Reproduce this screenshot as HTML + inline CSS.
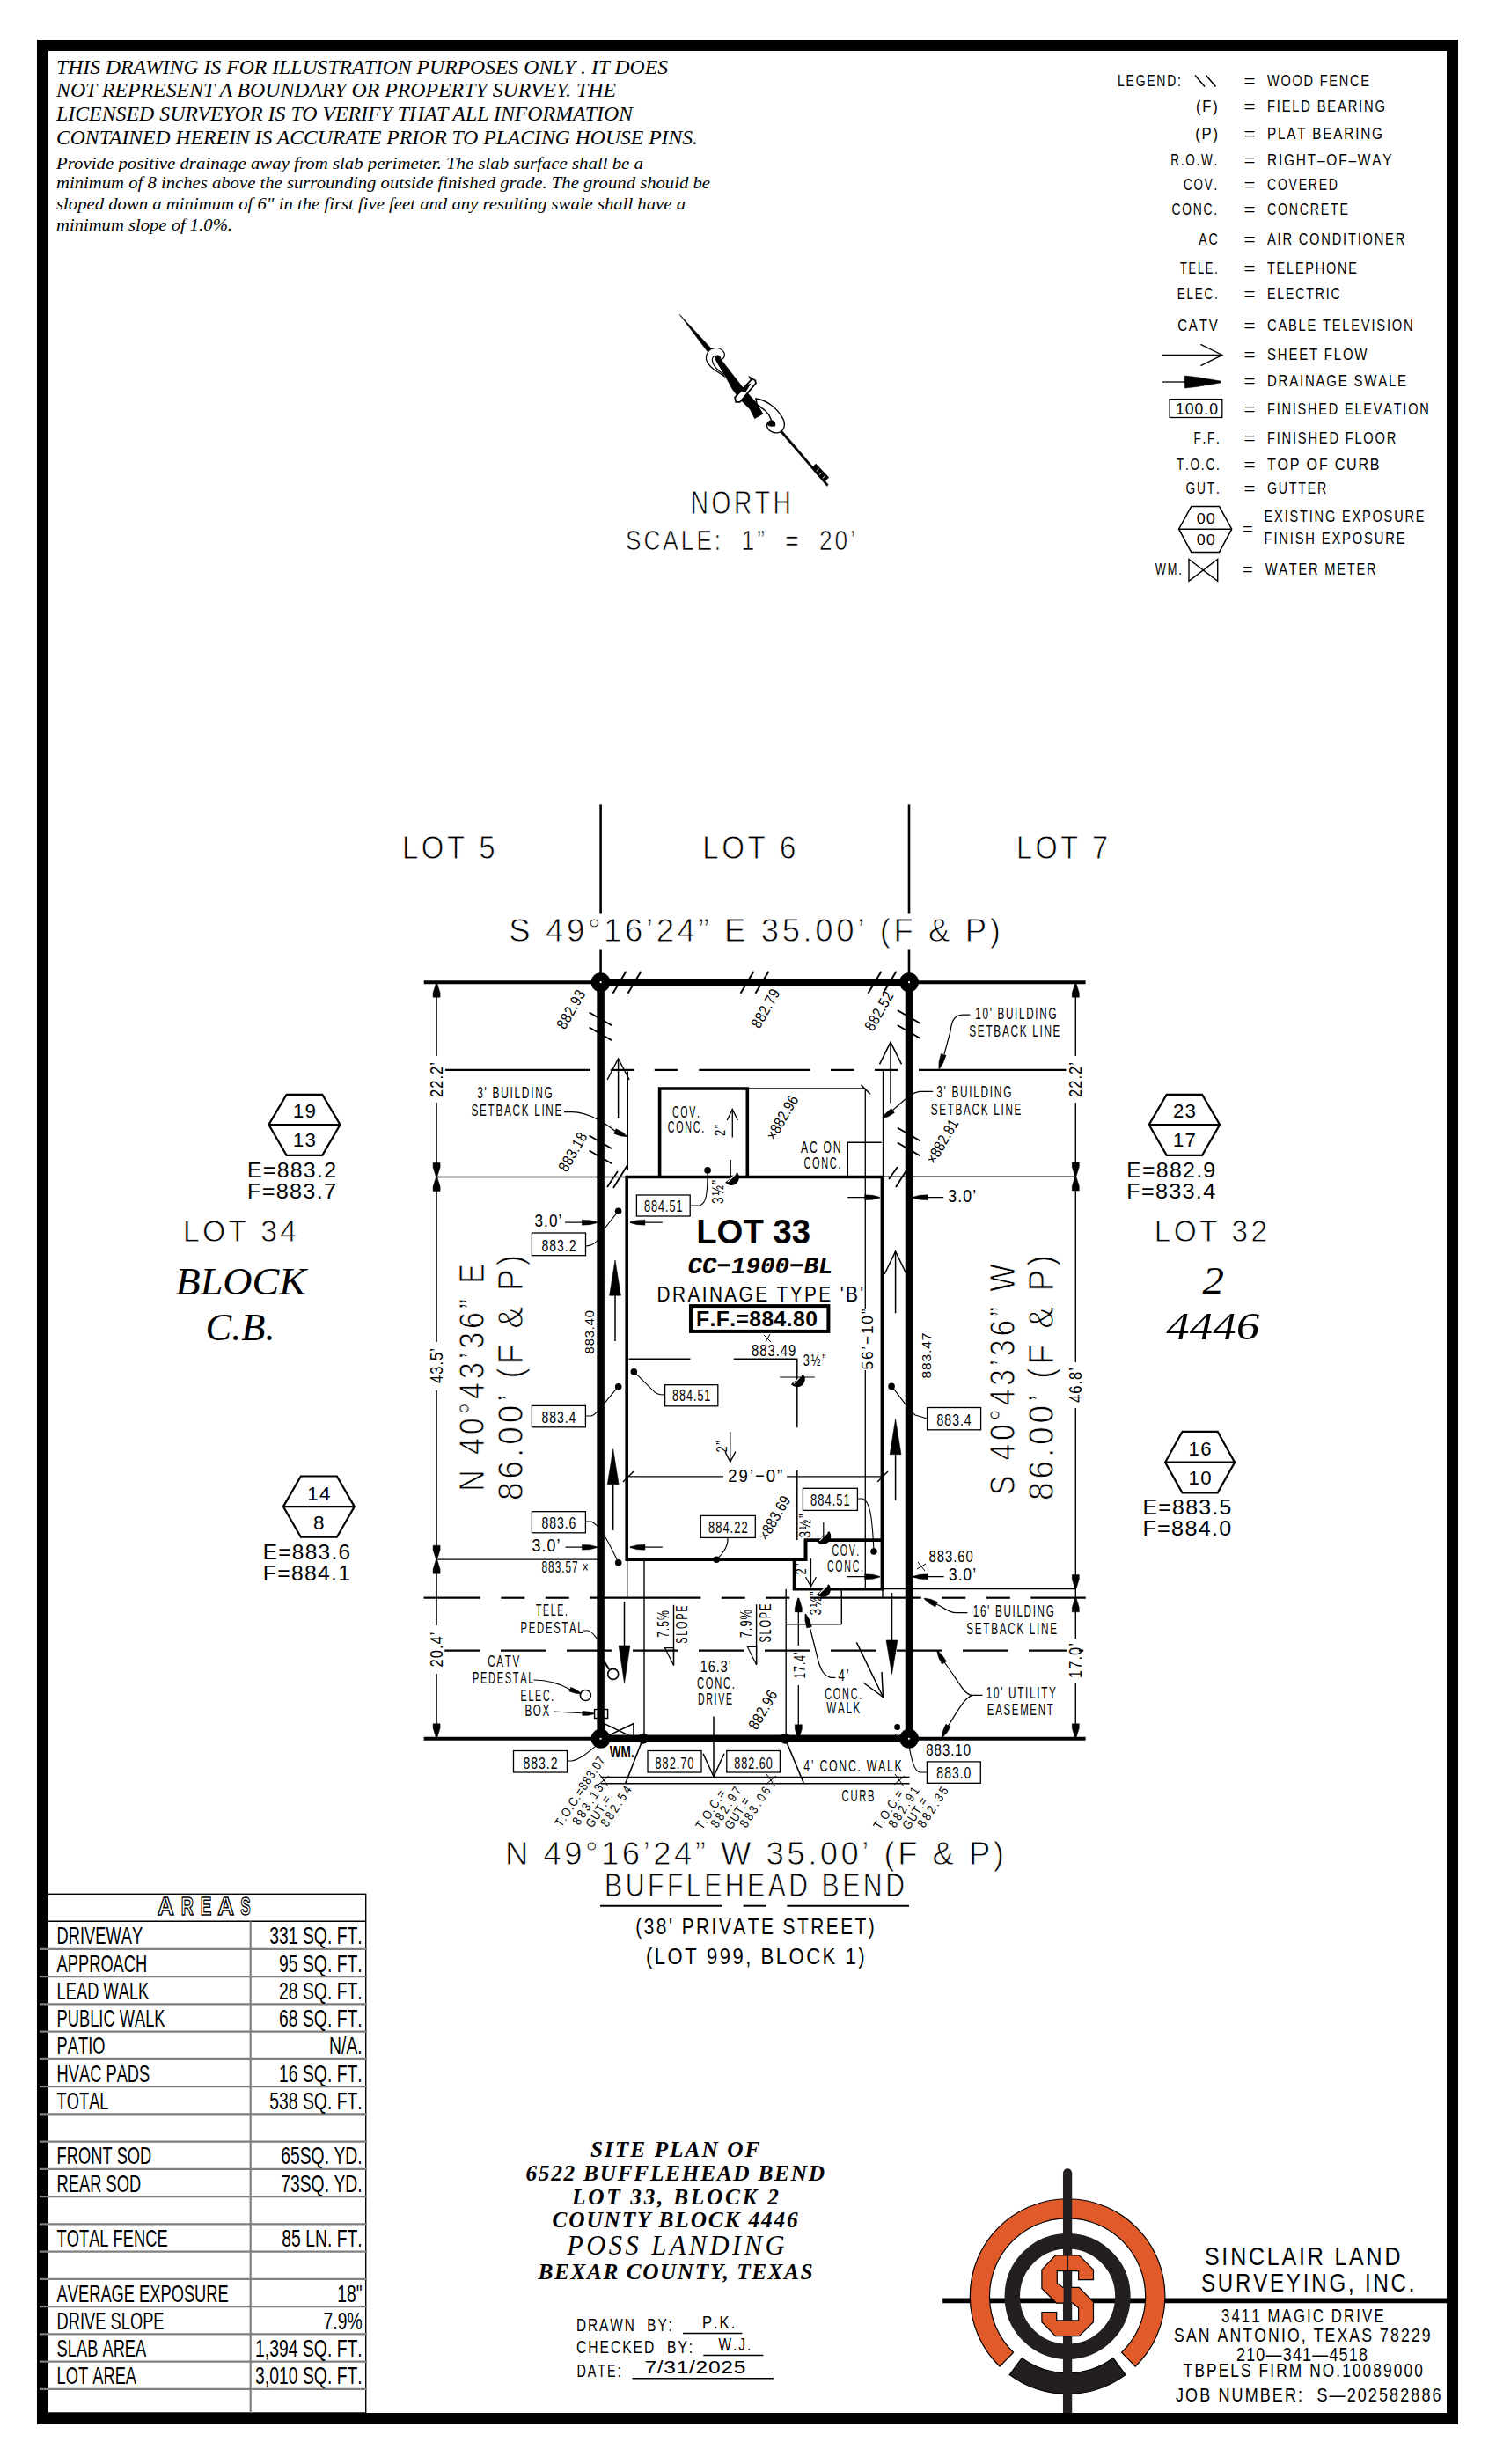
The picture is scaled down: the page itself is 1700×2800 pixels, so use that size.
<!DOCTYPE html>
<html><head><meta charset="utf-8"><style>
html,body{margin:0;padding:0;background:#fff;}
body{width:1700px;height:2800px;overflow:hidden;}
svg{display:block;}
</style></head><body>
<svg width="1700" height="2800" viewBox="0 0 1700 2800">
<rect x="48.5" y="51.5" width="1602.0" height="2697.0" stroke="#000" stroke-width="13" fill="none"/>
<text x="64.0" y="83.6" font-size="23.51" font-family='"Liberation Serif", serif' fill="#000" textLength="695.0" lengthAdjust="spacingAndGlyphs" font-style="italic">THIS DRAWING IS FOR ILLUSTRATION PURPOSES ONLY . IT DOES</text>
<text x="64.0" y="109.8" font-size="23.51" font-family='"Liberation Serif", serif' fill="#000" textLength="636.0" lengthAdjust="spacingAndGlyphs" font-style="italic">NOT REPRESENT A BOUNDARY OR PROPERTY SURVEY. THE</text>
<text x="64.0" y="136.6" font-size="23.51" font-family='"Liberation Serif", serif' fill="#000" textLength="655.0" lengthAdjust="spacingAndGlyphs" font-style="italic">LICENSED SURVEYOR IS TO VERIFY THAT ALL INFORMATION</text>
<text x="64.0" y="163.8" font-size="23.51" font-family='"Liberation Serif", serif' fill="#000" textLength="729.0" lengthAdjust="spacingAndGlyphs" font-style="italic">CONTAINED HEREIN IS ACCURATE PRIOR TO PLACING HOUSE PINS.</text>
<text x="64.0" y="191.6" font-size="19.69" font-family='"Liberation Serif", serif' fill="#000" textLength="667.0" lengthAdjust="spacingAndGlyphs" font-style="italic">Provide positive drainage away from slab perimeter. The slab surface shall be a</text>
<text x="64.0" y="214.3" font-size="19.69" font-family='"Liberation Serif", serif' fill="#000" textLength="743.0" lengthAdjust="spacingAndGlyphs" font-style="italic">minimum of 8 inches above the surrounding outside finished grade. The ground should be</text>
<text x="64.0" y="237.5" font-size="19.69" font-family='"Liberation Serif", serif' fill="#000" textLength="715.0" lengthAdjust="spacingAndGlyphs" font-style="italic">sloped down a minimum of 6" in the first five feet and any resulting swale shall have a</text>
<text x="64.0" y="262.4" font-size="19.69" font-family='"Liberation Serif", serif' fill="#000" textLength="200.0" lengthAdjust="spacingAndGlyphs" font-style="italic">minimum slope of 1.0%.</text>
<text transform="translate(1270.00,98.00) scale(0.7638,1)" x="0.00 12.49 27.02 43.57 58.10 73.63 89.17" y="0" font-size="18.31" font-family='"Liberation Sans", sans-serif' fill="#000" style="white-space:pre">LEGEND:</text>
<line x1="1358.0" y1="85.5" x2="1369.0" y2="98.5" stroke="#000" stroke-width="1.5" />
<line x1="1370.5" y1="85.5" x2="1381.5" y2="98.5" stroke="#000" stroke-width="1.5" />
<text transform="translate(1413.60,98.00) scale(1.2155,1)" x="0.00" y="0" font-size="18.31" font-family='"Liberation Sans", sans-serif' fill="#000" style="white-space:pre">=</text>
<text transform="translate(1440.00,98.00) scale(0.7936,1)" x="0.00 19.51 35.98 52.44 67.89 75.20 88.61 103.05 118.50 133.95" y="0" font-size="18.31" font-family='"Liberation Sans", sans-serif' fill="#000" style="white-space:pre">WOOD FENCE</text>
<text transform="translate(1359.00,127.40) scale(0.9054,1)" x="0.00 8.05 21.18" y="0" font-size="18.31" font-family='"Liberation Sans", sans-serif' fill="#000" style="white-space:pre">(F)</text>
<text transform="translate(1413.60,127.40) scale(1.2155,1)" x="0.00" y="0" font-size="18.31" font-family='"Liberation Sans", sans-serif' fill="#000" style="white-space:pre">=</text>
<text transform="translate(1440.00,127.40) scale(0.8093,1)" x="0.00 13.37 20.63 35.03 47.39 62.80 70.07 84.46 98.86 113.25 128.66 135.93 151.33" y="0" font-size="18.31" font-family='"Liberation Sans", sans-serif' fill="#000" style="white-space:pre">FIELD BEARING</text>
<text transform="translate(1358.30,157.60) scale(0.9082,1)" x="0.00 8.04 22.20" y="0" font-size="18.31" font-family='"Liberation Sans", sans-serif' fill="#000" style="white-space:pre">(P)</text>
<text transform="translate(1413.60,157.60) scale(1.2155,1)" x="0.00" y="0" font-size="18.31" font-family='"Liberation Sans", sans-serif' fill="#000" style="white-space:pre">=</text>
<text transform="translate(1440.00,157.60) scale(0.8363,1)" x="0.00 14.32 26.62 40.94 54.24 61.44 75.76 90.09 104.41 119.75 126.95 142.28" y="0" font-size="18.31" font-family='"Liberation Sans", sans-serif' fill="#000" style="white-space:pre">PLAT BEARING</text>
<text transform="translate(1330.20,187.80) scale(0.7360,1)" x="0.00 15.62 23.11 39.75 47.23 66.92" y="0" font-size="18.31" font-family='"Liberation Sans", sans-serif' fill="#000" style="white-space:pre">R.O.W.</text>
<text transform="translate(1413.60,187.80) scale(1.2155,1)" x="0.00" y="0" font-size="18.31" font-family='"Liberation Sans", sans-serif' fill="#000" style="white-space:pre">=</text>
<text transform="translate(1440.00,187.80) scale(0.8457,1)" x="0.00 15.31 22.49 38.82 54.13 67.40 79.67 96.00 109.28 121.55 140.92 155.22" y="0" font-size="18.31" font-family='"Liberation Sans", sans-serif' fill="#000" style="white-space:pre">RIGHT–OF–WAY</text>
<text transform="translate(1345.00,215.60) scale(0.7349,1)" x="0.00 15.63 32.27 46.89" y="0" font-size="18.31" font-family='"Liberation Sans", sans-serif' fill="#000" style="white-space:pre">COV.</text>
<text transform="translate(1413.60,215.60) scale(1.2155,1)" x="0.00" y="0" font-size="18.31" font-family='"Liberation Sans", sans-serif' fill="#000" style="white-space:pre">=</text>
<text transform="translate(1440.00,215.60) scale(0.7665,1)" x="0.00 15.53 32.07 46.59 61.11 76.63 91.15" y="0" font-size="18.31" font-family='"Liberation Sans", sans-serif' fill="#000" style="white-space:pre">COVERED</text>
<text transform="translate(1331.50,243.70) scale(0.7565,1)" x="0.00 15.56 32.13 47.69 63.25" y="0" font-size="18.31" font-family='"Liberation Sans", sans-serif' fill="#000" style="white-space:pre">CONC.</text>
<text transform="translate(1413.60,243.70) scale(1.2155,1)" x="0.00" y="0" font-size="18.31" font-family='"Liberation Sans", sans-serif' fill="#000" style="white-space:pre">=</text>
<text transform="translate(1440.00,243.70) scale(0.7751,1)" x="0.00 15.50 32.02 47.52 63.03 78.53 93.02 106.48" y="0" font-size="18.31" font-family='"Liberation Sans", sans-serif' fill="#000" style="white-space:pre">CONCRETE</text>
<text transform="translate(1362.30,277.90) scale(0.7719,1)" x="0.00 14.50" y="0" font-size="18.31" font-family='"Liberation Sans", sans-serif' fill="#000" style="white-space:pre">AC</text>
<text transform="translate(1413.60,277.90) scale(1.2155,1)" x="0.00" y="0" font-size="18.31" font-family='"Liberation Sans", sans-serif' fill="#000" style="white-space:pre">=</text>
<text transform="translate(1440.00,277.90) scale(0.8034,1)" x="0.00 14.41 21.69 37.12 44.40 59.82 76.26 91.68 107.11 114.39 127.77 135.06 151.50 166.92 181.33" y="0" font-size="18.31" font-family='"Liberation Sans", sans-serif' fill="#000" style="white-space:pre">AIR CONDITIONER</text>
<text transform="translate(1341.00,310.50) scale(0.7004,1)" x="0.00 13.71 28.44 41.14 55.88" y="0" font-size="18.31" font-family='"Liberation Sans", sans-serif' fill="#000" style="white-space:pre">TELE.</text>
<text transform="translate(1413.60,310.50) scale(1.2155,1)" x="0.00" y="0" font-size="18.31" font-family='"Liberation Sans", sans-serif' fill="#000" style="white-space:pre">=</text>
<text transform="translate(1440.00,310.50) scale(0.7923,1)" x="0.00 13.41 27.86 40.27 54.71 69.15 84.60 101.07 116.53" y="0" font-size="18.31" font-family='"Liberation Sans", sans-serif' fill="#000" style="white-space:pre">TELEPHONE</text>
<text transform="translate(1337.70,340.20) scale(0.7357,1)" x="0.00 14.61 27.20 41.81 57.43" y="0" font-size="18.31" font-family='"Liberation Sans", sans-serif' fill="#000" style="white-space:pre">ELEC.</text>
<text transform="translate(1413.60,340.20) scale(1.2155,1)" x="0.00" y="0" font-size="18.31" font-family='"Liberation Sans", sans-serif' fill="#000" style="white-space:pre">=</text>
<text transform="translate(1440.00,340.20) scale(0.7768,1)" x="0.00 14.49 26.94 41.43 56.93 70.38 85.88 93.24" y="0" font-size="18.31" font-family='"Liberation Sans", sans-serif' fill="#000" style="white-space:pre">ELECTRIC</text>
<text transform="translate(1338.20,375.60) scale(0.8232,1)" x="0.00 15.37 29.73 43.06" y="0" font-size="18.31" font-family='"Liberation Sans", sans-serif' fill="#000" style="white-space:pre">CATV</text>
<text transform="translate(1413.60,375.60) scale(1.2155,1)" x="0.00" y="0" font-size="18.31" font-family='"Liberation Sans", sans-serif' fill="#000" style="white-space:pre">=</text>
<text transform="translate(1440.00,375.60) scale(0.8042,1)" x="0.00 15.42 29.83 44.24 56.62 71.03 78.31 91.69 106.10 118.48 132.88 147.29 154.58 168.98 176.27 192.70" y="0" font-size="18.31" font-family='"Liberation Sans", sans-serif' fill="#000" style="white-space:pre">CABLE TELEVISION</text>
<text transform="translate(1413.60,409.00) scale(1.2155,1)" x="0.00" y="0" font-size="18.31" font-family='"Liberation Sans", sans-serif' fill="#000" style="white-space:pre">=</text>
<text transform="translate(1440.00,409.00) scale(0.8200,1)" x="0.00 14.37 29.74 44.11 58.48 71.82 79.05 92.39 104.73 121.13" y="0" font-size="18.31" font-family='"Liberation Sans", sans-serif' fill="#000" style="white-space:pre">SHEET FLOW</text>
<text transform="translate(1413.60,438.90) scale(1.2155,1)" x="0.00" y="0" font-size="18.31" font-family='"Liberation Sans", sans-serif' fill="#000" style="white-space:pre">=</text>
<text transform="translate(1440.00,438.90) scale(0.8199,1)" x="0.00 15.38 30.75 45.12 52.36 67.74 82.11 98.50 112.87 120.11 134.48 153.91 168.28 180.62" y="0" font-size="18.31" font-family='"Liberation Sans", sans-serif' fill="#000" style="white-space:pre">DRAINAGE SWALE</text>
<text transform="translate(1336.00,470.50) scale(0.9594,1)" x="0.00 11.24 22.47 33.71 39.85" y="0" font-size="18.31" font-family='"Liberation Sans", sans-serif' fill="#000" style="white-space:pre">100.0</text>
<text transform="translate(1413.60,470.50) scale(1.2155,1)" x="0.00" y="0" font-size="18.31" font-family='"Liberation Sans", sans-serif' fill="#000" style="white-space:pre">=</text>
<text transform="translate(1440.00,470.50) scale(0.7955,1)" x="0.00 13.40 20.71 36.15 43.46 57.89 73.33 87.77 103.21 110.52 124.95 137.35 151.79 166.22 180.65 194.06 201.36 217.82" y="0" font-size="18.31" font-family='"Liberation Sans", sans-serif' fill="#000" style="white-space:pre">FINISHED ELEVATION</text>
<text transform="translate(1356.40,503.60) scale(0.7406,1)" x="0.00 13.57 21.04 34.61" y="0" font-size="18.31" font-family='"Liberation Sans", sans-serif' fill="#000" style="white-space:pre">F.F.</text>
<text transform="translate(1413.60,503.60) scale(1.2155,1)" x="0.00" y="0" font-size="18.31" font-family='"Liberation Sans", sans-serif' fill="#000" style="white-space:pre">=</text>
<text transform="translate(1440.00,503.60) scale(0.8036,1)" x="0.00 13.38 20.67 36.09 43.37 57.78 73.20 87.61 103.03 110.32 123.70 136.08 152.52 168.96" y="0" font-size="18.31" font-family='"Liberation Sans", sans-serif' fill="#000" style="white-space:pre">FINISHED FLOOR</text>
<text transform="translate(1336.90,534.40) scale(0.7432,1)" x="0.00 13.56 21.02 37.64 45.10 60.70" y="0" font-size="18.31" font-family='"Liberation Sans", sans-serif' fill="#000" style="white-space:pre">T.O.C.</text>
<text transform="translate(1413.60,534.40) scale(1.2155,1)" x="0.00" y="0" font-size="18.31" font-family='"Liberation Sans", sans-serif' fill="#000" style="white-space:pre">=</text>
<text transform="translate(1440.00,534.40) scale(0.8786,1)" x="0.00 13.19 29.45 43.67 50.77 67.02 80.21 87.31 102.54 117.78 133.01" y="0" font-size="18.31" font-family='"Liberation Sans", sans-serif' fill="#000" style="white-space:pre">TOP OF CURB</text>
<text transform="translate(1347.60,560.60) scale(0.7522,1)" x="0.00 16.59 32.16 45.69" y="0" font-size="18.31" font-family='"Liberation Sans", sans-serif' fill="#000" style="white-space:pre">GUT.</text>
<text transform="translate(1413.60,560.60) scale(1.2155,1)" x="0.00" y="0" font-size="18.31" font-family='"Liberation Sans", sans-serif' fill="#000" style="white-space:pre">=</text>
<text transform="translate(1440.00,560.60) scale(0.7755,1)" x="0.00 16.52 32.02 45.48 58.94 73.43" y="0" font-size="18.31" font-family='"Liberation Sans", sans-serif' fill="#000" style="white-space:pre">GUTTER</text>
<line x1="1320.0" y1="403.4" x2="1389.0" y2="403.4" stroke="#000" stroke-width="1.3" />
<path d="M1364.4,391.3 L1389,403.4 L1364.4,415.7" stroke="#000" stroke-width="1.3" fill="none" />
<line x1="1321.0" y1="434.0" x2="1348.0" y2="434.0" stroke="#000" stroke-width="1.3" />
<path d="M1346.3,427.0 L1360.0,428.5 L1387.0,433.0 L1387.0,435.0 L1360.0,439.5 L1346.3,441.0 Z" stroke="#000" stroke-width="0.5" fill="#000" />
<rect x="1329.1" y="453.6" width="59.7" height="20.9" stroke="#000" stroke-width="1.3" fill="none"/>
<path d="M1353.7,575.6 L1385.6,575.6 L1399.7,601.2 L1385.6,627.4 L1353.7,627.4 L1339.6,601.2 Z" stroke="#000" stroke-width="1.5" fill="none" />
<line x1="1339.6" y1="601.2" x2="1399.7" y2="601.2" stroke="#000" stroke-width="1.5" />
<text transform="translate(1359.80,595.30) scale(1.0802,1)" x="0.00 10.15" y="0" font-size="16.72" font-family='"Liberation Sans", sans-serif' fill="#000" style="white-space:pre">00</text>
<text transform="translate(1359.80,619.40) scale(1.0802,1)" x="0.00 10.15" y="0" font-size="16.72" font-family='"Liberation Sans", sans-serif' fill="#000" style="white-space:pre">00</text>
<text transform="translate(1411.80,607.00) scale(1.1220,1)" x="0.00" y="0" font-size="18.31" font-family='"Liberation Sans", sans-serif' fill="#000" style="white-space:pre">=</text>
<text transform="translate(1436.60,592.70) scale(0.7995,1)" x="0.00 14.42 28.84 36.14 50.56 63.95 71.25 86.68 103.13 110.43 124.85 139.27 153.69 170.14 184.56 200.00 215.43" y="0" font-size="18.31" font-family='"Liberation Sans", sans-serif' fill="#000" style="white-space:pre">EXISTING EXPOSURE</text>
<text transform="translate(1436.60,617.50) scale(0.8107,1)" x="0.00 13.36 20.63 36.03 43.29 57.68 73.09 80.35 94.74 109.13 123.52 139.94 154.34 169.74 185.14" y="0" font-size="18.31" font-family='"Liberation Sans", sans-serif' fill="#000" style="white-space:pre">FINISH EXPOSURE</text>
<text transform="translate(1312.80,653.40) scale(0.7034,1)" x="0.00 19.79 37.56" y="0" font-size="18.31" font-family='"Liberation Sans", sans-serif' fill="#000" style="white-space:pre">WM.</text>
<path d="M1351.0,635.5 L1383.7,660.3 L1383.7,635.5 L1351.0,660.3 Z" stroke="#000" stroke-width="1.4" fill="none" />
<text transform="translate(1411.80,653.40) scale(1.1220,1)" x="0.00" y="0" font-size="18.31" font-family='"Liberation Sans", sans-serif' fill="#000" style="white-space:pre">=</text>
<text transform="translate(1437.70,653.40) scale(0.8008,1)" x="0.00 19.49 33.91 47.30 61.71 77.14 84.43 101.89 116.31 129.70 144.12" y="0" font-size="18.31" font-family='"Liberation Sans", sans-serif' fill="#000" style="white-space:pre">WATER METER</text>
<path d="M772.3,357.4 L808.1,396.1 L804.1,399.7 Z" stroke="#000" stroke-width="0.6" fill="#000" />
<path d="M812.8,407.5 L819.5,408.8 L845.6,442.2 L858.9,457.0 L867.0,470.3 L857.6,475.7 L852.2,465.0 L840.2,452.9 L832.2,442.2 L822.8,424.9 Z" stroke="#000" stroke-width="0.6" fill="#000" />
<path d="M 804.12 400.80 C 800.11 407.49 804.12 414.17 810.80 419.52 L 822.83 427.54 L 821.50 424.87 C 817.49 422.19 810.80 416.84 809.47 410.16 C 808.13 403.48 816.15 402.14 817.49 408.82 C 822.83 408.82 825.51 403.48 821.50 398.80 C 817.49 394.12 806.79 394.12 804.12 400.80 Z" stroke="#000" stroke-width="1.2" fill="#fff" />
<path d="M 812.81 406.15 C 813.48 402.81 818.82 403.48 818.82 407.49 C 817.49 410.16 813.48 410.16 812.81 406.15 Z" stroke="#000" stroke-width="1" fill="#000" />
<path d="M813.5,409.5 L819.5,409.5 L829.5,424.9 L822.8,424.9 Z" stroke="#000" stroke-width="0.5" fill="#000" />
<path d="M 835.13 451.60 L 853.58 431.55 L 852.25 428.88 L 858.26 432.22 L 858.93 435.56 L 840.88 456.95 L 836.20 456.95 Z" stroke="#000" stroke-width="1.8" fill="#fff" />
<path d="M 841.82 444.25 L 848.24 437.57 L 853.58 435.56 L 846.90 446.26 Z" stroke="#000" stroke-width="0" fill="#000" />
<path d="M 858.93 452.94 C 869.63 454.28 882.99 462.30 890.35 477.01 C 893.69 486.36 888.34 493.05 880.32 491.71 C 872.30 490.37 868.29 482.35 874.97 478.34 C 878.98 477.01 881.66 481.02 880.32 483.69 L 877.65 482.35 C 876.31 474.33 872.30 467.65 865.61 463.64 L 860.27 459.63 Z" stroke="#000" stroke-width="1.4" fill="#fff" />
<path d="M 872.30 482.35 C 873.64 477.01 880.32 478.34 880.99 482.35 C 880.32 485.03 873.64 485.03 872.30 482.35 Z" stroke="#000" stroke-width="0.8" fill="#000" />
<path d="M886.3,490.4 L889.0,489.7 L941.1,550.5 L939.8,552.5 Z" stroke="#000" stroke-width="0.5" fill="#000" />
<path d="M922.4,531.8 L927.1,527.1 L941.8,542.5 L936.5,547.9 Z" stroke="#000" stroke-width="0.5" fill="#000" />
<line x1="927.7" y1="535.6" x2="930.5" y2="532.8" stroke="#fff" stroke-width="1.0" />
<line x1="931.2" y1="539.6" x2="934.1" y2="536.7" stroke="#fff" stroke-width="1.0" />
<line x1="934.7" y1="543.6" x2="937.8" y2="540.5" stroke="#fff" stroke-width="1.0" />
<text transform="translate(784.80,583.50) scale(0.7741,1)" x="0.00 30.76 63.55 94.31 121.03" y="0" font-size="36.34" font-family='"Liberation Sans", sans-serif' fill="#000" stroke="#fff" stroke-width="0.80" style="white-space:pre">NORTH</text>
<text transform="translate(711.00,624.80) scale(0.8608,1)" x="0.00 23.77 49.23 73.01 93.40 117.17 129.07 140.96 152.86 173.25 186.83 198.73 210.62 231.86 243.76 255.66 276.05 296.44" y="0" font-size="30.52" font-family='"Liberation Sans", sans-serif' fill="#000" stroke="#fff" stroke-width="0.67" style="white-space:pre">SCALE:  1”  =  20’</text>
<text transform="translate(457.00,975.80) scale(0.9062,1)" x="0.00 24.07 56.20 82.26 96.21" y="0" font-size="36.34" font-family='"Liberation Sans", sans-serif' fill="#000" stroke="#fff" stroke-width="0.80" style="white-space:pre">LOT 5</text>
<text transform="translate(798.30,975.80) scale(0.9112,1)" x="0.00 24.05 56.16 82.19 96.13" y="0" font-size="36.34" font-family='"Liberation Sans", sans-serif' fill="#000" stroke="#fff" stroke-width="0.80" style="white-space:pre">LOT 6</text>
<text transform="translate(1155.00,975.80) scale(0.8914,1)" x="0.00 24.14 56.33 82.45 96.47" y="0" font-size="36.34" font-family='"Liberation Sans", sans-serif' fill="#000" stroke="#fff" stroke-width="0.80" style="white-space:pre">LOT 7</text>
<line x1="682.6" y1="914.4" x2="682.6" y2="1038.4" stroke="#000" stroke-width="2.6" />
<line x1="682.6" y1="1078.5" x2="682.6" y2="1116.2" stroke="#000" stroke-width="2.6" />
<line x1="1033.0" y1="914.4" x2="1033.0" y2="1038.4" stroke="#000" stroke-width="2.6" />
<line x1="1033.0" y1="1078.5" x2="1033.0" y2="1116.2" stroke="#000" stroke-width="2.6" />
<text transform="translate(578.30,1070.00) scale(0.9877,1)" x="0.00 28.34 42.25 66.48 90.70 109.14 133.37 157.60 169.44 193.67 217.90 233.86 247.77 276.11 290.02 314.24 338.47 352.38 376.61 400.84 412.69 426.60 442.56 468.81 482.72 511.06 524.97 553.31" y="0" font-size="37.06" font-family='"Liberation Sans", sans-serif' fill="#000" stroke="#fff" stroke-width="0.82" style="white-space:pre">S 49°16’24” E 35.00’ (F &amp; P)</text>
<line x1="481.7" y1="1116.2" x2="682.6" y2="1116.2" stroke="#000" stroke-width="4" />
<line x1="1033.0" y1="1116.2" x2="1233.6" y2="1116.2" stroke="#000" stroke-width="4" />
<line x1="481.7" y1="1975.8" x2="682.6" y2="1975.8" stroke="#000" stroke-width="4" />
<line x1="1033.0" y1="1975.8" x2="1233.6" y2="1975.8" stroke="#000" stroke-width="4" />
<line x1="682.6" y1="1116.2" x2="1033.0" y2="1116.2" stroke="#000" stroke-width="8.5" />
<line x1="682.6" y1="1975.8" x2="1033.0" y2="1975.8" stroke="#000" stroke-width="8.5" />
<line x1="682.6" y1="1116.2" x2="682.6" y2="1975.8" stroke="#000" stroke-width="8.5" />
<line x1="1033.0" y1="1116.2" x2="1033.0" y2="1975.8" stroke="#000" stroke-width="8.5" />
<circle cx="682.6" cy="1116.2" r="11.0" fill="#000" stroke="#000" stroke-width="0"/>
<circle cx="682.6" cy="1116.2" r="1.1" fill="#fff" stroke="#000" stroke-width="0"/>
<circle cx="1033.0" cy="1116.2" r="11.0" fill="#000" stroke="#000" stroke-width="0"/>
<circle cx="1033.0" cy="1116.2" r="1.1" fill="#fff" stroke="#000" stroke-width="0"/>
<circle cx="682.6" cy="1975.8" r="11.0" fill="#000" stroke="#000" stroke-width="0"/>
<circle cx="682.6" cy="1975.8" r="1.1" fill="#fff" stroke="#000" stroke-width="0"/>
<circle cx="1033.0" cy="1975.8" r="11.0" fill="#000" stroke="#000" stroke-width="0"/>
<circle cx="1033.0" cy="1975.8" r="1.1" fill="#fff" stroke="#000" stroke-width="0"/>
<circle cx="730.8" cy="1975.8" r="6.0" fill="#000" stroke="#000" stroke-width="0"/>
<circle cx="892.4" cy="1975.8" r="6.0" fill="#000" stroke="#000" stroke-width="0"/>
<line x1="496.1" y1="1116.2" x2="496.1" y2="1200.0" stroke="#000" stroke-width="1.4" />
<line x1="496.1" y1="1253.0" x2="496.1" y2="1337.5" stroke="#000" stroke-width="1.4" />
<path d="M495.5,1117.2 L496.7,1117.2 L500.1,1128.2 L500.1,1133.2 L492.1,1133.2 L492.1,1128.2 Z" stroke="#000" stroke-width="0.5" fill="#000" />
<path d="M495.5,1337.5 L496.7,1337.5 L500.1,1326.5 L500.1,1321.5 L492.1,1321.5 L492.1,1326.5 Z" stroke="#000" stroke-width="0.5" fill="#000" />
<path d="M495.5,1337.5 L496.7,1337.5 L500.1,1348.5 L500.1,1353.5 L492.1,1353.5 L492.1,1348.5 Z" stroke="#000" stroke-width="0.5" fill="#000" />
<text transform="rotate(-90 502.80 1227.00) translate(482.80,1227.00) scale(0.8386,1)" x="0.00 12.20 24.40 31.14 43.34" y="0" font-size="19.62" font-family='"Liberation Sans", sans-serif' fill="#000" style="white-space:pre">22.2’</text>
<line x1="496.1" y1="1337.5" x2="496.1" y2="1525.0" stroke="#000" stroke-width="1.4" />
<line x1="496.1" y1="1580.0" x2="496.1" y2="1772.2" stroke="#000" stroke-width="1.4" />
<text transform="rotate(-90 502.80 1552.00) translate(482.80,1552.00) scale(0.8386,1)" x="0.00 12.20 24.40 31.14 43.34" y="0" font-size="19.62" font-family='"Liberation Sans", sans-serif' fill="#000" style="white-space:pre">43.5’</text>
<path d="M495.5,1772.2 L496.7,1772.2 L500.1,1761.2 L500.1,1756.2 L492.1,1756.2 L492.1,1761.2 Z" stroke="#000" stroke-width="0.5" fill="#000" />
<path d="M495.5,1772.2 L496.7,1772.2 L500.1,1783.2 L500.1,1788.2 L492.1,1788.2 L492.1,1783.2 Z" stroke="#000" stroke-width="0.5" fill="#000" />
<line x1="496.1" y1="1772.2" x2="496.1" y2="1847.0" stroke="#000" stroke-width="1.4" />
<line x1="496.1" y1="1902.0" x2="496.1" y2="1975.8" stroke="#000" stroke-width="1.4" />
<text transform="rotate(-90 502.80 1874.50) translate(482.80,1874.50) scale(0.8386,1)" x="0.00 12.20 24.40 31.14 43.34" y="0" font-size="19.62" font-family='"Liberation Sans", sans-serif' fill="#000" style="white-space:pre">20.4’</text>
<path d="M495.5,1974.8 L496.7,1974.8 L500.1,1963.8 L500.1,1958.8 L492.1,1958.8 L492.1,1963.8 Z" stroke="#000" stroke-width="0.5" fill="#000" />
<line x1="1222.3" y1="1116.2" x2="1222.3" y2="1200.0" stroke="#000" stroke-width="1.4" />
<line x1="1222.3" y1="1253.0" x2="1222.3" y2="1337.0" stroke="#000" stroke-width="1.4" />
<text transform="rotate(-90 1229.00 1227.00) translate(1209.00,1227.00) scale(0.8386,1)" x="0.00 12.20 24.40 31.14 43.34" y="0" font-size="19.62" font-family='"Liberation Sans", sans-serif' fill="#000" style="white-space:pre">22.2’</text>
<path d="M1221.7,1117.2 L1222.9,1117.2 L1226.3,1128.2 L1226.3,1133.2 L1218.3,1133.2 L1218.3,1128.2 Z" stroke="#000" stroke-width="0.5" fill="#000" />
<path d="M1221.7,1337.0 L1222.9,1337.0 L1226.3,1326.0 L1226.3,1321.0 L1218.3,1321.0 L1218.3,1326.0 Z" stroke="#000" stroke-width="0.5" fill="#000" />
<path d="M1221.7,1337.0 L1222.9,1337.0 L1226.3,1348.0 L1226.3,1353.0 L1218.3,1353.0 L1218.3,1348.0 Z" stroke="#000" stroke-width="0.5" fill="#000" />
<line x1="1222.3" y1="1337.0" x2="1222.3" y2="1548.0" stroke="#000" stroke-width="1.4" />
<line x1="1222.3" y1="1600.0" x2="1222.3" y2="1805.6" stroke="#000" stroke-width="1.4" />
<text transform="rotate(-90 1229.00 1574.00) translate(1209.00,1574.00) scale(0.8386,1)" x="0.00 12.20 24.40 31.14 43.34" y="0" font-size="19.62" font-family='"Liberation Sans", sans-serif' fill="#000" style="white-space:pre">46.8’</text>
<path d="M1221.7,1805.6 L1222.9,1805.6 L1226.3,1794.6 L1226.3,1789.6 L1218.3,1789.6 L1218.3,1794.6 Z" stroke="#000" stroke-width="0.5" fill="#000" />
<path d="M1221.7,1815.8 L1222.9,1815.8 L1226.3,1826.8 L1226.3,1831.8 L1218.3,1831.8 L1218.3,1826.8 Z" stroke="#000" stroke-width="0.5" fill="#000" />
<line x1="1222.3" y1="1805.6" x2="1222.3" y2="1815.8" stroke="#000" stroke-width="1.4" />
<line x1="1222.3" y1="1815.8" x2="1222.3" y2="1862.0" stroke="#000" stroke-width="1.4" />
<line x1="1222.3" y1="1912.0" x2="1222.3" y2="1975.8" stroke="#000" stroke-width="1.4" />
<text transform="rotate(-90 1229.00 1887.00) translate(1209.00,1887.00) scale(0.8386,1)" x="0.00 12.20 24.40 31.14 43.34" y="0" font-size="19.62" font-family='"Liberation Sans", sans-serif' fill="#000" style="white-space:pre">17.0’</text>
<path d="M1221.7,1974.8 L1222.9,1974.8 L1226.3,1963.8 L1226.3,1958.8 L1218.3,1958.8 L1218.3,1963.8 Z" stroke="#000" stroke-width="0.5" fill="#000" />
<line x1="496.1" y1="1337.5" x2="712.2" y2="1337.5" stroke="#000" stroke-width="1.3" />
<line x1="1002.4" y1="1337.2" x2="1222.3" y2="1337.2" stroke="#000" stroke-width="1.3" />
<line x1="496.1" y1="1772.2" x2="682.6" y2="1772.2" stroke="#000" stroke-width="1.3" />
<line x1="1002.4" y1="1805.6" x2="1222.3" y2="1805.6" stroke="#000" stroke-width="1.3" />
<line x1="506.0" y1="1215.9" x2="671.0" y2="1215.9" stroke="#000" stroke-width="2.2" />
<line x1="693.8" y1="1215.9" x2="720.3" y2="1215.9" stroke="#000" stroke-width="2.2" />
<line x1="743.8" y1="1215.9" x2="770.3" y2="1215.9" stroke="#000" stroke-width="2.2" />
<line x1="794.3" y1="1215.9" x2="920.3" y2="1215.9" stroke="#000" stroke-width="2.2" />
<line x1="944.0" y1="1215.9" x2="970.5" y2="1215.9" stroke="#000" stroke-width="2.2" />
<line x1="994.0" y1="1215.9" x2="1020.5" y2="1215.9" stroke="#000" stroke-width="2.2" />
<line x1="1044.0" y1="1215.9" x2="1211.5" y2="1215.9" stroke="#000" stroke-width="2.2" />
<line x1="481.5" y1="1815.7" x2="545.8" y2="1815.7" stroke="#000" stroke-width="2.2" />
<line x1="569.3" y1="1815.7" x2="596.3" y2="1815.7" stroke="#000" stroke-width="2.2" />
<line x1="619.8" y1="1815.7" x2="646.8" y2="1815.7" stroke="#000" stroke-width="2.2" />
<line x1="670.3" y1="1815.7" x2="796.3" y2="1815.7" stroke="#000" stroke-width="2.2" />
<line x1="819.8" y1="1815.7" x2="846.8" y2="1815.7" stroke="#000" stroke-width="2.2" />
<line x1="870.3" y1="1815.7" x2="897.3" y2="1815.7" stroke="#000" stroke-width="2.2" />
<line x1="920.8" y1="1815.7" x2="1046.8" y2="1815.7" stroke="#000" stroke-width="2.2" />
<line x1="1070.3" y1="1815.7" x2="1097.3" y2="1815.7" stroke="#000" stroke-width="2.2" />
<line x1="1120.8" y1="1815.7" x2="1147.8" y2="1815.7" stroke="#000" stroke-width="2.2" />
<line x1="1171.3" y1="1815.7" x2="1233.8" y2="1815.7" stroke="#000" stroke-width="2.2" />
<line x1="505.2" y1="1875.7" x2="545.5" y2="1875.7" stroke="#000" stroke-width="2.2" />
<line x1="569.0" y1="1875.7" x2="620.5" y2="1875.7" stroke="#000" stroke-width="2.2" />
<line x1="644.0" y1="1875.7" x2="695.5" y2="1875.7" stroke="#000" stroke-width="2.2" />
<line x1="719.0" y1="1875.7" x2="770.5" y2="1875.7" stroke="#000" stroke-width="2.2" />
<line x1="794.0" y1="1875.7" x2="845.5" y2="1875.7" stroke="#000" stroke-width="2.2" />
<line x1="869.0" y1="1875.7" x2="920.5" y2="1875.7" stroke="#000" stroke-width="2.2" />
<line x1="944.0" y1="1875.7" x2="995.5" y2="1875.7" stroke="#000" stroke-width="2.2" />
<line x1="1019.0" y1="1875.7" x2="1070.5" y2="1875.7" stroke="#000" stroke-width="2.2" />
<line x1="1094.0" y1="1875.7" x2="1145.5" y2="1875.7" stroke="#000" stroke-width="2.2" />
<line x1="1169.0" y1="1875.7" x2="1212.4" y2="1875.7" stroke="#000" stroke-width="2.2" />
<line x1="1226.0" y1="1875.7" x2="1231.2" y2="1875.7" stroke="#000" stroke-width="2.2" />
<path d="M712.2,1337.5 L1002.4,1337.5 L1002.4,1750.2 L915.5,1750.2 L915.5,1772.2 L712.2,1772.2 Z" stroke="#000" stroke-width="3.6" fill="none" />
<path d="M915.5,1750.2 L1002.4,1750.2 L1002.4,1805.7 L902.5,1805.7 L902.5,1772.2 L915.5,1772.2 Z" stroke="#000" stroke-width="3.6" fill="none" />
<path d="M749.6,1337.5 L749.6,1237.0 L849.3,1237.0 L849.3,1337.5" stroke="#000" stroke-width="3.6" fill="none" />
<line x1="849.3" y1="1237.0" x2="983.3" y2="1237.0" stroke="#000" stroke-width="1.3" />
<line x1="978.4" y1="1232.8" x2="989.0" y2="1243.3" stroke="#000" stroke-width="1.5" />
<line x1="983.3" y1="1237.0" x2="983.3" y2="1487.0" stroke="#000" stroke-width="1.3" />
<line x1="983.3" y1="1557.0" x2="983.3" y2="1805.7" stroke="#000" stroke-width="1.3" />
<path d="M963.2,1337.5 L963.2,1298.3 L1001.8,1298.3" stroke="#000" stroke-width="1.6" fill="none" />
<text transform="translate(910.10,1309.50) scale(0.7003,1)" x="0.00 14.03 29.03 36.27 52.24" y="0" font-size="17.44" font-family='"Liberation Sans", sans-serif' fill="#000" style="white-space:pre">AC ON</text>
<text transform="translate(913.40,1327.50) scale(0.6295,1)" x="0.00 15.26 31.50 46.77 62.03" y="0" font-size="17.44" font-family='"Liberation Sans", sans-serif' fill="#000" style="white-space:pre">CONC.</text>
<text transform="translate(764.00,1269.80) scale(0.6087,1)" x="0.00 15.36 31.68 46.08" y="0" font-size="17.44" font-family='"Liberation Sans", sans-serif' fill="#000" style="white-space:pre">COV.</text>
<text transform="translate(758.80,1287.20) scale(0.6170,1)" x="0.00 15.32 31.61 46.93 62.25" y="0" font-size="17.44" font-family='"Liberation Sans", sans-serif' fill="#000" style="white-space:pre">CONC.</text>
<text transform="translate(791.20,1413.00) scale(0.9773,1)" x="0.00 23.97 54.50 78.47 89.37 111.20" y="0" font-size="39.24" font-family='"Liberation Sans", sans-serif' fill="#000" font-weight="bold" style="white-space:pre">LOT 33</text>
<text x="781.5" y="1446.8" font-family='"Liberation Mono", monospace' font-weight="bold" font-style="italic" font-size="27.5" textLength="165" lengthAdjust="spacingAndGlyphs">CC−1900−BL</text>
<text transform="translate(746.60,1478.50) scale(0.8430,1)" x="0.00 20.67 41.34 60.64 70.33 91.00 110.30 132.34 151.65 161.34 179.25 198.56 217.86 237.17 246.85 254.40 273.70" y="0" font-size="24.71" font-family='"Liberation Sans", sans-serif' fill="#000" style="white-space:pre">DRAINAGE TYPE 'B'</text>
<rect x="785.0" y="1484.1" width="156.4" height="28.8" stroke="#000" stroke-width="4" fill="none"/>
<text transform="translate(790.90,1506.70) scale(1.0000,1)" x="0.00 15.50 22.77 38.28 45.55 60.39 74.54 88.69 102.84 110.11 124.26" y="0" font-size="24.71" font-family='"Liberation Sans", sans-serif' fill="#000" font-weight="bold" style="white-space:pre">F.F.=884.80</text>
<line x1="714.5" y1="1544.2" x2="784.5" y2="1544.2" stroke="#000" stroke-width="1.5" />
<path d="M833.7,1544.2 L905.8,1544.2 L905.8,1622.2" stroke="#000" stroke-width="1.5" fill="none" />
<line x1="905.8" y1="1671.0" x2="905.8" y2="1750.0" stroke="#000" stroke-width="1.5" />
<text transform="translate(854.00,1540.50) scale(0.8529,1)" x="0.00 10.83 21.65 32.48 38.45 49.28" y="0" font-size="17.44" font-family='"Liberation Sans", sans-serif' fill="#000" style="white-space:pre">883.49</text>
<line x1="868.0" y1="1517.0" x2="876.0" y2="1525.0" stroke="#000" stroke-width="1" />
<line x1="870.0" y1="1525.0" x2="875.0" y2="1516.0" stroke="#000" stroke-width="1" />
<text transform="translate(912.80,1552.30) scale(0.6775,1)" x="0.00 13.19 31.64" y="0" font-size="18.90" font-family='"Liberation Sans", sans-serif' fill="#000" style="white-space:pre">3½”</text>
<line x1="714.5" y1="1677.9" x2="822.0" y2="1677.9" stroke="#000" stroke-width="1.3" />
<line x1="894.0" y1="1677.9" x2="1003.7" y2="1677.9" stroke="#000" stroke-width="1.3" />
<text transform="translate(827.30,1683.90) scale(0.9137,1)" x="0.00 13.46 26.92 33.59 47.62 61.08" y="0" font-size="20.35" font-family='"Liberation Sans", sans-serif' fill="#000" style="white-space:pre">29’−0”</text>
<line x1="708.0" y1="1684.0" x2="720.0" y2="1672.0" stroke="#000" stroke-width="1.5" />
<line x1="997.0" y1="1684.0" x2="1009.0" y2="1672.0" stroke="#000" stroke-width="1.5" />
<text transform="rotate(-90 991.50 1522.00) translate(957.00,1522.00) scale(0.9138,1)" x="0.00 12.50 25.00 31.19 44.22 56.72 69.22" y="0" font-size="18.90" font-family='"Liberation Sans", sans-serif' fill="#000" style="white-space:pre">56’−10”</text>
<line x1="829.8" y1="1627.2" x2="829.8" y2="1661.4" stroke="#000" stroke-width="1.3" />
<path d="M824,1649.6 L829.8,1661.4 L835.8,1649.6" stroke="#000" stroke-width="1.3" fill="none" />
<text transform="rotate(-90 825.50 1644.00) translate(819.00,1644.00) scale(0.8061,1)" x="0.00 10.80" y="0" font-size="15.99" font-family='"Liberation Sans", sans-serif' fill="#000" style="white-space:pre">2”</text>
<path d="M325.6,1243.9 L366.3,1243.9 L386.5,1278.0 L366.3,1312.8 L325.6,1312.8 L305.4,1278.0 Z" stroke="#000" stroke-width="2.2" fill="none" />
<line x1="305.4" y1="1278.0" x2="386.5" y2="1278.0" stroke="#000" stroke-width="2.2" />
<text transform="translate(332.95,1270.20) scale(0.9685,1)" x="0.00 14.08" y="0" font-size="22.97" font-family='"Liberation Sans", sans-serif' fill="#000" style="white-space:pre">19</text>
<text transform="translate(332.95,1303.00) scale(0.9685,1)" x="0.00 14.08" y="0" font-size="22.97" font-family='"Liberation Sans", sans-serif' fill="#000" style="white-space:pre">13</text>
<text transform="translate(281.00,1337.90) scale(1.0691,1)" x="0.00 16.71 31.49 45.62 59.75 73.88 81.54" y="0" font-size="23.26" font-family='"Liberation Sans", sans-serif' fill="#000" style="white-space:pre">E=883.2</text>
<text transform="translate(281.00,1361.50) scale(1.0854,1)" x="0.00 15.38 30.15 44.26 58.37 72.48 80.13" y="0" font-size="23.26" font-family='"Liberation Sans", sans-serif' fill="#000" style="white-space:pre">F=883.7</text>
<path d="M341.9,1677.5 L382.8,1677.5 L402.8,1712.1 L382.8,1746.7 L341.9,1746.7 L321.9,1712.1 Z" stroke="#000" stroke-width="2.2" fill="none" />
<line x1="321.9" y1="1712.1" x2="402.8" y2="1712.1" stroke="#000" stroke-width="2.2" />
<text transform="translate(349.35,1704.80) scale(0.9685,1)" x="0.00 14.08" y="0" font-size="22.97" font-family='"Liberation Sans", sans-serif' fill="#000" style="white-space:pre">14</text>
<text transform="translate(356.10,1737.70) scale(0.9790,1)" x="0.00" y="0" font-size="22.97" font-family='"Liberation Sans", sans-serif' fill="#000" style="white-space:pre">8</text>
<text transform="translate(298.80,1771.80) scale(1.0485,1)" x="0.00 16.73 31.53 45.69 59.84 74.00 81.68" y="0" font-size="23.26" font-family='"Liberation Sans", sans-serif' fill="#000" style="white-space:pre">E=883.6</text>
<text transform="translate(298.80,1796.10) scale(1.0644,1)" x="0.00 15.41 30.19 44.33 58.46 72.60 80.26" y="0" font-size="23.26" font-family='"Liberation Sans", sans-serif' fill="#000" style="white-space:pre">F=884.1</text>
<path d="M1325.7,1243.9 L1366.1,1243.9 L1386.1,1278.0 L1366.1,1312.8 L1325.7,1312.8 L1305.7,1278.0 Z" stroke="#000" stroke-width="2.2" fill="none" />
<line x1="1305.7" y1="1278.0" x2="1386.1" y2="1278.0" stroke="#000" stroke-width="2.2" />
<text transform="translate(1332.90,1270.20) scale(0.9685,1)" x="0.00 14.08" y="0" font-size="22.97" font-family='"Liberation Sans", sans-serif' fill="#000" style="white-space:pre">23</text>
<text transform="translate(1332.90,1303.00) scale(0.9685,1)" x="0.00 14.08" y="0" font-size="22.97" font-family='"Liberation Sans", sans-serif' fill="#000" style="white-space:pre">17</text>
<text transform="translate(1280.20,1337.90) scale(1.0691,1)" x="0.00 16.71 31.49 45.62 59.75 73.88 81.54" y="0" font-size="23.26" font-family='"Liberation Sans", sans-serif' fill="#000" style="white-space:pre">E=882.9</text>
<text transform="translate(1280.20,1361.50) scale(1.0854,1)" x="0.00 15.38 30.15 44.26 58.37 72.48 80.13" y="0" font-size="23.26" font-family='"Liberation Sans", sans-serif' fill="#000" style="white-space:pre">F=833.4</text>
<path d="M1343.5,1626.9 L1383.7,1626.9 L1403.1,1661.7 L1383.7,1696.3 L1343.5,1696.3 L1324.1,1661.7 Z" stroke="#000" stroke-width="2.2" fill="none" />
<line x1="1324.1" y1="1661.7" x2="1403.1" y2="1661.7" stroke="#000" stroke-width="2.2" />
<text transform="translate(1350.60,1653.70) scale(0.9685,1)" x="0.00 14.08" y="0" font-size="22.97" font-family='"Liberation Sans", sans-serif' fill="#000" style="white-space:pre">16</text>
<text transform="translate(1350.60,1686.50) scale(0.9685,1)" x="0.00 14.08" y="0" font-size="22.97" font-family='"Liberation Sans", sans-serif' fill="#000" style="white-space:pre">10</text>
<text transform="translate(1298.40,1720.60) scale(1.0691,1)" x="0.00 16.71 31.49 45.62 59.75 73.88 81.54" y="0" font-size="23.26" font-family='"Liberation Sans", sans-serif' fill="#000" style="white-space:pre">E=883.5</text>
<text transform="translate(1298.40,1745.00) scale(1.0854,1)" x="0.00 15.38 30.15 44.26 58.37 72.48 80.13" y="0" font-size="23.26" font-family='"Liberation Sans", sans-serif' fill="#000" style="white-space:pre">F=884.0</text>
<text transform="translate(208.00,1411.40) scale(0.9645,1)" x="0.00 22.88 53.50 78.29 91.47 114.35" y="0" font-size="34.88" font-family='"Liberation Sans", sans-serif' fill="#000" stroke="#fff" stroke-width="0.77" style="white-space:pre">LOT 34</text>
<text x="199.5" y="1471.0" font-size="45.04" font-family='"Liberation Serif", serif' fill="#000" textLength="148.5" lengthAdjust="spacingAndGlyphs" font-style="italic">BLOCK</text>
<text x="233.6" y="1523.4" font-size="45.04" font-family='"Liberation Serif", serif' fill="#000" textLength="79.0" lengthAdjust="spacingAndGlyphs" font-style="italic">C.B.</text>
<text transform="translate(1311.80,1411.40) scale(0.9585,1)" x="0.00 22.91 53.55 78.36 91.56 114.46" y="0" font-size="34.88" font-family='"Liberation Sans", sans-serif' fill="#000" stroke="#fff" stroke-width="0.77" style="white-space:pre">LOT 32</text>
<text x="1366.6" y="1469.8" font-size="45.04" font-family='"Liberation Serif", serif' fill="#000" textLength="24.4" lengthAdjust="spacingAndGlyphs" font-style="italic">2</text>
<text x="1325.2" y="1521.7" font-size="45.04" font-family='"Liberation Serif", serif' fill="#000" textLength="106.0" lengthAdjust="spacingAndGlyphs" font-style="italic">4446</text>
<text transform="translate(574.00,2119.30) scale(1.0033,1)" x="0.00 29.73 43.31 67.01 90.71 108.73 132.43 156.12 167.69 191.38 215.08 230.67 244.26 282.04 295.62 319.32 343.02 356.60 380.30 404.00 415.56 429.14 444.73 470.42 484.00 511.73 525.31 553.04" y="0" font-size="36.34" font-family='"Liberation Sans", sans-serif' fill="#000" stroke="#fff" stroke-width="0.80" style="white-space:pre">N 49°16’24” W 35.00’ (F &amp; P)</text>
<text transform="translate(687.00,2154.50) scale(0.8311,1)" x="0.00 28.45 58.90 85.31 111.72 136.14 164.58 195.04 223.48 251.93 282.39 296.69 325.14 353.59 384.04" y="0" font-size="36.34" font-family='"Liberation Sans", sans-serif' fill="#000" stroke="#fff" stroke-width="0.80" style="white-space:pre">BUFFLEHEAD BEND</text>
<line x1="682.0" y1="2165.7" x2="821.0" y2="2165.7" stroke="#000" stroke-width="2" />
<line x1="844.6" y1="2165.7" x2="870.7" y2="2165.7" stroke="#000" stroke-width="2" />
<line x1="894.3" y1="2165.7" x2="1033.0" y2="2165.7" stroke="#000" stroke-width="2" />
<text transform="translate(722.30,2198.00) scale(0.8060,1)" x="0.00 11.71 29.19 46.67 54.70 64.98 85.33 107.10 117.38 137.73 158.08 176.98 197.32 207.60 227.95 246.85 268.62 288.97 309.32 328.21" y="0" font-size="25.87" font-family='"Liberation Sans", sans-serif' fill="#000" style="white-space:pre">(38' PRIVATE STREET)</text>
<text transform="translate(734.00,2232.00) scale(0.8537,1)" x="0.00 11.53 28.84 51.89 70.61 80.72 98.02 115.33 132.64 142.75 152.85 173.03 190.34 213.38 234.98 255.16 265.26 282.57" y="0" font-size="25.87" font-family='"Liberation Sans", sans-serif' fill="#000" style="white-space:pre">(LOT 999, BLOCK 1)</text>
<rect x="48.0" y="2152.3" width="367.7" height="589.7" stroke="#000" stroke-width="1.4" fill="none"/>
<line x1="48.0" y1="2183.3" x2="415.7" y2="2183.3" stroke="#000" stroke-width="1.4" />
<line x1="284.7" y1="2183.3" x2="284.7" y2="2742.0" stroke="#7f7f7f" stroke-width="2.2" />
<line x1="45.0" y1="2214.9" x2="417.0" y2="2214.9" stroke="#7f7f7f" stroke-width="2.2" />
<line x1="45.0" y1="2246.2" x2="417.0" y2="2246.2" stroke="#7f7f7f" stroke-width="2.2" />
<line x1="45.0" y1="2277.4" x2="417.0" y2="2277.4" stroke="#7f7f7f" stroke-width="2.2" />
<line x1="45.0" y1="2308.7" x2="417.0" y2="2308.7" stroke="#7f7f7f" stroke-width="2.2" />
<line x1="45.0" y1="2339.9" x2="417.0" y2="2339.9" stroke="#7f7f7f" stroke-width="2.2" />
<line x1="45.0" y1="2371.2" x2="417.0" y2="2371.2" stroke="#7f7f7f" stroke-width="2.2" />
<line x1="45.0" y1="2402.4" x2="417.0" y2="2402.4" stroke="#7f7f7f" stroke-width="2.2" />
<line x1="45.0" y1="2433.7" x2="417.0" y2="2433.7" stroke="#7f7f7f" stroke-width="2.2" />
<line x1="45.0" y1="2464.9" x2="417.0" y2="2464.9" stroke="#7f7f7f" stroke-width="2.2" />
<line x1="45.0" y1="2496.2" x2="417.0" y2="2496.2" stroke="#7f7f7f" stroke-width="2.2" />
<line x1="45.0" y1="2527.4" x2="417.0" y2="2527.4" stroke="#7f7f7f" stroke-width="2.2" />
<line x1="45.0" y1="2558.7" x2="417.0" y2="2558.7" stroke="#7f7f7f" stroke-width="2.2" />
<line x1="45.0" y1="2589.9" x2="417.0" y2="2589.9" stroke="#7f7f7f" stroke-width="2.2" />
<line x1="45.0" y1="2621.2" x2="417.0" y2="2621.2" stroke="#7f7f7f" stroke-width="2.2" />
<line x1="45.0" y1="2652.4" x2="417.0" y2="2652.4" stroke="#7f7f7f" stroke-width="2.2" />
<line x1="45.0" y1="2683.7" x2="417.0" y2="2683.7" stroke="#7f7f7f" stroke-width="2.2" />
<line x1="45.0" y1="2714.9" x2="417.0" y2="2714.9" stroke="#7f7f7f" stroke-width="2.2" />
<text transform="translate(179.0,2175.8) scale(0.893,1)" x="0.00" y="0" font-family='"Liberation Sans", sans-serif' font-weight="bold" font-size="29.07" fill="#fff" stroke="#000" stroke-width="1.5">A</text>
<text transform="translate(205.7,2175.8) scale(0.677,1)" x="0.00" y="0" font-family='"Liberation Sans", sans-serif' font-weight="bold" font-size="29.07" fill="#fff" stroke="#000" stroke-width="1.5">R</text>
<text transform="translate(227.8,2175.8) scale(0.645,1)" x="0.00" y="0" font-family='"Liberation Sans", sans-serif' font-weight="bold" font-size="29.07" fill="#fff" stroke="#000" stroke-width="1.5">E</text>
<text transform="translate(247.2,2175.8) scale(0.893,1)" x="0.00" y="0" font-family='"Liberation Sans", sans-serif' font-weight="bold" font-size="29.07" fill="#fff" stroke="#000" stroke-width="1.5">A</text>
<text transform="translate(273.3,2175.8) scale(0.588,1)" x="0.00" y="0" font-family='"Liberation Sans", sans-serif' font-weight="bold" font-size="29.07" fill="#fff" stroke="#000" stroke-width="1.5">S</text>
<text transform="translate(64.60,2209.30) scale(0.6800,1)" x="0.00 19.42 38.84 46.31 64.24 82.18 107.56 125.49" y="0" font-size="26.89" font-family='"Liberation Sans", sans-serif' fill="#000" style="white-space:pre">DRIVEWAY</text>
<text transform="translate(306.25,2209.30) scale(0.7200,1)" x="0.00 14.95 29.91 44.86 52.34 70.27 91.19 98.66 106.13 122.55 138.98" y="0" font-size="26.89" font-family='"Liberation Sans", sans-serif' fill="#000" style="white-space:pre">331 SQ. FT.</text>
<text transform="translate(64.60,2240.55) scale(0.6800,1)" x="0.00 17.94 35.87 53.81 73.22 94.14 112.08 131.49" y="0" font-size="26.89" font-family='"Liberation Sans", sans-serif' fill="#000" style="white-space:pre">APPROACH</text>
<text transform="translate(317.02,2240.55) scale(0.7200,1)" x="0.00 14.95 29.91 37.38 55.32 76.23 83.70 91.17 107.60 124.02" y="0" font-size="26.89" font-family='"Liberation Sans", sans-serif' fill="#000" style="white-space:pre">95 SQ. FT.</text>
<text transform="translate(64.60,2271.80) scale(0.6800,1)" x="0.00 14.95 32.89 50.83 70.24 77.71 103.09 121.03 135.98" y="0" font-size="26.89" font-family='"Liberation Sans", sans-serif' fill="#000" style="white-space:pre">LEAD WALK</text>
<text transform="translate(317.02,2271.80) scale(0.7200,1)" x="0.00 14.95 29.91 37.38 55.32 76.23 83.70 91.17 107.60 124.02" y="0" font-size="26.89" font-family='"Liberation Sans", sans-serif' fill="#000" style="white-space:pre">28 SQ. FT.</text>
<text transform="translate(64.60,2303.05) scale(0.6800,1)" x="0.00 17.94 37.35 55.29 70.24 77.71 97.13 104.60 129.98 147.92 162.87" y="0" font-size="26.89" font-family='"Liberation Sans", sans-serif' fill="#000" style="white-space:pre">PUBLIC WALK</text>
<text transform="translate(317.02,2303.05) scale(0.7200,1)" x="0.00 14.95 29.91 37.38 55.32 76.23 83.70 91.17 107.60 124.02" y="0" font-size="26.89" font-family='"Liberation Sans", sans-serif' fill="#000" style="white-space:pre">68 SQ. FT.</text>
<text transform="translate(64.60,2334.30) scale(0.6800,1)" x="0.00 17.94 35.87 52.30 59.77" y="0" font-size="26.89" font-family='"Liberation Sans", sans-serif' fill="#000" style="white-space:pre">PATIO</text>
<text transform="translate(374.04,2334.30) scale(0.7200,1)" x="0.00 19.42 26.89 44.82" y="0" font-size="26.89" font-family='"Liberation Sans", sans-serif' fill="#000" style="white-space:pre">N/A.</text>
<text transform="translate(64.60,2365.55) scale(0.6800,1)" x="0.00 19.42 37.35 55.29 74.71 82.18 100.11 118.05 137.47" y="0" font-size="26.89" font-family='"Liberation Sans", sans-serif' fill="#000" style="white-space:pre">HVAC PADS</text>
<text transform="translate(317.02,2365.55) scale(0.7200,1)" x="0.00 14.95 29.91 37.38 55.32 76.23 83.70 91.17 107.60 124.02" y="0" font-size="26.89" font-family='"Liberation Sans", sans-serif' fill="#000" style="white-space:pre">16 SQ. FT.</text>
<text transform="translate(64.60,2396.80) scale(0.6800,1)" x="0.00 16.43 37.34 53.77 71.70" y="0" font-size="26.89" font-family='"Liberation Sans", sans-serif' fill="#000" style="white-space:pre">TOTAL</text>
<text transform="translate(306.25,2396.80) scale(0.7200,1)" x="0.00 14.95 29.91 44.86 52.34 70.27 91.19 98.66 106.13 122.55 138.98" y="0" font-size="26.89" font-family='"Liberation Sans", sans-serif' fill="#000" style="white-space:pre">538 SQ. FT.</text>
<text transform="translate(64.60,2459.30) scale(0.6800,1)" x="0.00 16.43 35.84 56.76 76.18 92.60 100.07 118.01 138.93" y="0" font-size="26.89" font-family='"Liberation Sans", sans-serif' fill="#000" style="white-space:pre">FRONT SOD</text>
<text transform="translate(319.16,2459.30) scale(0.7200,1)" x="0.00 14.95 29.91 47.84 68.76 76.23 83.70 101.64 121.06" y="0" font-size="26.89" font-family='"Liberation Sans", sans-serif' fill="#000" style="white-space:pre">65SQ. YD.</text>
<text transform="translate(64.60,2490.55) scale(0.6800,1)" x="0.00 19.42 37.35 55.29 74.71 82.18 100.11 121.03" y="0" font-size="26.89" font-family='"Liberation Sans", sans-serif' fill="#000" style="white-space:pre">REAR SOD</text>
<text transform="translate(319.16,2490.55) scale(0.7200,1)" x="0.00 14.95 29.91 47.84 68.76 76.23 83.70 101.64 121.06" y="0" font-size="26.89" font-family='"Liberation Sans", sans-serif' fill="#000" style="white-space:pre">73SQ. YD.</text>
<text transform="translate(64.60,2553.05) scale(0.6800,1)" x="0.00 16.43 37.34 53.77 71.70 86.66 94.13 110.55 128.49 147.91 167.33" y="0" font-size="26.89" font-family='"Liberation Sans", sans-serif' fill="#000" style="white-space:pre">TOTAL FENCE</text>
<text transform="translate(320.24,2553.05) scale(0.7200,1)" x="0.00 14.95 29.91 37.38 52.34 71.75 79.22 86.70 103.12 119.55" y="0" font-size="26.89" font-family='"Liberation Sans", sans-serif' fill="#000" style="white-space:pre">85 LN. FT.</text>
<text transform="translate(64.60,2615.55) scale(0.6800,1)" x="0.00 17.94 35.87 53.81 73.22 91.16 112.08 130.01 137.48 155.42 173.35 191.29 212.20 230.14 249.56 268.98" y="0" font-size="26.89" font-family='"Liberation Sans", sans-serif' fill="#000" style="white-space:pre">AVERAGE EXPOSURE</text>
<text transform="translate(383.29,2615.55) scale(0.7200,1)" x="0.00 14.95 29.91" y="0" font-size="26.89" font-family='"Liberation Sans", sans-serif' fill="#000" style="white-space:pre">18"</text>
<text transform="translate(64.60,2646.80) scale(0.6800,1)" x="0.00 19.42 38.84 46.31 64.24 82.18 89.65 107.59 122.54 143.46 161.39" y="0" font-size="26.89" font-family='"Liberation Sans", sans-serif' fill="#000" style="white-space:pre">DRIVE SLOPE</text>
<text transform="translate(367.57,2646.80) scale(0.7200,1)" x="0.00 14.95 22.43 37.38" y="0" font-size="26.89" font-family='"Liberation Sans", sans-serif' fill="#000" style="white-space:pre">7.9%</text>
<text transform="translate(64.60,2678.05) scale(0.6800,1)" x="0.00 17.94 32.89 50.83 68.76 76.23 94.17 113.59 131.52" y="0" font-size="26.89" font-family='"Liberation Sans", sans-serif' fill="#000" style="white-space:pre">SLAB AREA</text>
<text transform="translate(290.11,2678.05) scale(0.7200,1)" x="0.00 14.95 22.43 37.38 52.34 67.29 74.76 92.70 113.61 121.08 128.55 144.98 161.40" y="0" font-size="26.89" font-family='"Liberation Sans", sans-serif' fill="#000" style="white-space:pre">1,394 SQ. FT.</text>
<text transform="translate(64.60,2709.30) scale(0.6800,1)" x="0.00 14.95 35.87 52.30 59.77 77.70 97.12 115.06" y="0" font-size="26.89" font-family='"Liberation Sans", sans-serif' fill="#000" style="white-space:pre">LOT AREA</text>
<text transform="translate(290.11,2709.30) scale(0.7200,1)" x="0.00 14.95 22.43 37.38 52.34 67.29 74.76 92.70 113.61 121.08 128.55 144.98 161.40" y="0" font-size="26.89" font-family='"Liberation Sans", sans-serif' fill="#000" style="white-space:pre">3,010 SQ. FT.</text>
<text x="670.9" y="2451.4" font-family='"Liberation Serif", serif' font-style="italic" font-weight="bold" font-size="25.34" textLength="192.5" lengthAdjust="spacing" style="white-space:pre">SITE PLAN OF</text>
<text x="597.4" y="2478.1" font-family='"Liberation Serif", serif' font-style="italic" font-weight="bold" font-size="25.34" textLength="339.6" lengthAdjust="spacing" style="white-space:pre">6522 BUFFLEHEAD BEND</text>
<text x="650" y="2504.9" font-family='"Liberation Serif", serif' font-style="italic" font-weight="bold" font-size="25.34" textLength="234.8" lengthAdjust="spacing" style="white-space:pre">LOT 33, BLOCK 2</text>
<text x="627.6" y="2531" font-family='"Liberation Serif", serif' font-style="italic" font-weight="bold" font-size="25.34" textLength="279.1" lengthAdjust="spacing" style="white-space:pre">COUNTY BLOCK 4446</text>
<text x="644.2" y="2562.4" font-family='"Liberation Serif", serif' font-style="italic" font-weight="normal" font-size="30.53" textLength="247.3" lengthAdjust="spacing" style="white-space:pre">POSS LANDING</text>
<text x="611.6" y="2589.9" font-family='"Liberation Serif", serif' font-style="italic" font-weight="bold" font-size="25.34" textLength="312.0" lengthAdjust="spacing" style="white-space:pre">BEXAR COUNTY, TEXAS</text>
<text transform="translate(654.90,2649.30) scale(0.7552,1)" x="0.00 17.29 34.58 50.75 72.55 89.84 98.09 106.34 122.51 138.68" y="0" font-size="20.35" font-family='"Liberation Sans", sans-serif' fill="#000" style="white-space:pre">DRAWN  BY:</text>
<text transform="translate(797.90,2646.00) scale(0.8196,1)" x="0.00 15.96 24.01 39.97" y="0" font-size="20.35" font-family='"Liberation Sans", sans-serif' fill="#000" style="white-space:pre">P.K.</text>
<line x1="776.0" y1="2651.4" x2="843.4" y2="2651.4" stroke="#000" stroke-width="1.5" />
<text transform="translate(654.90,2673.90) scale(0.7711,1)" x="0.00 17.24 34.47 50.59 67.83 83.94 100.05 117.29 125.49 133.68 149.80 165.91" y="0" font-size="20.35" font-family='"Liberation Sans", sans-serif' fill="#000" style="white-space:pre">CHECKED  BY:</text>
<text transform="translate(816.60,2670.60) scale(0.7574,1)" x="0.00 21.79 30.04 42.80" y="0" font-size="20.35" font-family='"Liberation Sans", sans-serif' fill="#000" style="white-space:pre">W.J.</text>
<line x1="799.3" y1="2676.5" x2="867.4" y2="2676.5" stroke="#000" stroke-width="1.5" />
<text transform="translate(655.40,2701.40) scale(0.7085,1)" x="0.00 17.46 33.80 49.00 65.34" y="0" font-size="20.35" font-family='"Liberation Sans", sans-serif' fill="#000" style="white-space:pre">DATE:</text>
<text transform="translate(732.40,2697.40) scale(1.2085,1)" x="0.00 11.90 18.13 30.03 41.92 48.15 60.05 71.95 83.84" y="0" font-size="20.35" font-family='"Liberation Sans", sans-serif' fill="#000" style="white-space:pre">7/31/2025</text>
<line x1="718.5" y1="2702.7" x2="879.0" y2="2702.7" stroke="#000" stroke-width="1.5" />
<line x1="1071.2" y1="2614.4" x2="1645.0" y2="2614.4" stroke="#000" stroke-width="5.6" />
<path d="M1136.1,2689.2 A110.8,110.8 0 1 1 1290.1,2689.2 L1274.6,2673.2 A88.6,88.6 0 1 0 1151.6,2673.2 Z" stroke="#000" stroke-width="1.2" fill="#e05a2a" />
<path d="M1279.0,2698.6 A110.8,110.8 0 0 1 1147.2,2698.6 L1161.2,2679.6 A87.2,87.2 0 0 0 1265.0,2679.6 Z" stroke="#000" stroke-width="1.2" fill="#231f20" />
<circle cx="1213.1" cy="2609.5" r="62.8" fill="none" stroke="#231f20" stroke-width="17.5"/>
<line x1="1213.1" y1="2469.4" x2="1213.1" y2="2742.0" stroke="#231f20" stroke-width="10.3" />
<circle cx="1213.1" cy="2469.4" r="5.1" fill="#231f20"/>
<path d="M1199.4,2562.9 L1226.2,2562.9 L1242.5,2579.2 L1242.5,2590.6 L1225.6,2590.6 L1225.6,2580.7 L1201.3,2580.7 L1201.3,2594.4 L1207.9,2599.4 L1226.2,2599.4 L1242.5,2615.9 L1242.5,2638.7 L1226.2,2654.6 L1199.4,2654.6 L1183.9,2638.7 L1183.9,2627.5 L1200.7,2627.5 L1200.7,2636.9 L1225.6,2636.9 L1225.6,2622.8 L1219.1,2617.2 L1200.7,2617.2 L1183.9,2600.4 L1183.9,2579.2 Z" stroke="#000" stroke-width="1.2" fill="#e05a2a" />
<line x1="1213.1" y1="2563.0" x2="1213.1" y2="2581.0" stroke="#231f20" stroke-width="2" />
<line x1="1213.1" y1="2580.7" x2="1213.1" y2="2637.0" stroke="#231f20" stroke-width="9" />
<text transform="translate(1368.90,2574.40) scale(0.8603,1)" x="0.00 22.64 33.98 58.22 82.47 101.89 124.54 135.87 160.12 171.45 190.87 213.51 237.76" y="0" font-size="29.07" font-family='"Liberation Sans", sans-serif' fill="#000" style="white-space:pre">SINCLAIR LAND</text>
<text transform="translate(1364.90,2603.70) scale(0.8284,1)" x="0.00 22.77 47.14 71.52 94.29 117.05 139.82 151.28 175.65 201.64 213.10 224.56 236.01 260.39 284.76" y="0" font-size="29.07" font-family='"Liberation Sans", sans-serif' fill="#000" style="white-space:pre">SURVEYING, INC.</text>
<text transform="translate(1388.00,2639.40) scale(0.7705,1)" x="0.00 14.85 29.70 44.55 59.40 68.19 89.07 106.34 126.03 134.81 153.28 162.06 180.53 199.00 207.79 225.06" y="0" font-size="21.80" font-family='"Liberation Sans", sans-serif' fill="#000" style="white-space:pre">3411 MAGIC DRIVE</text>
<text transform="translate(1334.00,2661.40) scale(0.8097,1)" x="0.00 17.14 34.27 52.61 61.26 78.40 96.74 112.65 132.20 150.54 159.19 178.74 187.39 196.04 211.95 229.09 246.23 263.36 280.50 289.15 303.87 318.59 333.31 348.03" y="0" font-size="21.80" font-family='"Liberation Sans", sans-serif' fill="#000" style="white-space:pre">SAN ANTONIO, TEXAS 78229</text>
<text transform="translate(1405.00,2682.70) scale(0.8237,1)" x="0.00 13.58 27.16 40.75 64.01 77.59 91.17 104.75 128.01 141.59 155.18 168.76" y="0" font-size="21.80" font-family='"Liberation Sans", sans-serif' fill="#000" style="white-space:pre">210—341—4518</text>
<text transform="translate(1344.80,2700.70) scale(0.7929,1)" x="0.00 15.97 33.16 50.35 67.54 82.31 99.50 108.21 124.17 132.88 151.27 172.08 180.79 199.18 218.79 227.50 242.27 257.04 271.82 286.59 301.37 316.14 330.91" y="0" font-size="21.80" font-family='"Liberation Sans", sans-serif' fill="#000" style="white-space:pre">TBPELS FIRM NO.10089000</text>
<text transform="translate(1336.00,2728.80) scale(0.8262,1)" x="0.00 13.44 32.94 50.03 58.63 76.91 95.20 115.90 132.99 150.07 168.36 176.96 185.56 194.15 211.24 235.58 250.25 264.92 279.58 294.25 308.92 323.59 338.25 352.92" y="0" font-size="21.80" font-family='"Liberation Sans", sans-serif' fill="#000" style="white-space:pre">JOB NUMBER:  S—202582886</text>
<line x1="711.5" y1="1103.7" x2="696.5" y2="1128.7" stroke="#000" stroke-width="2" />
<line x1="728.5" y1="1103.7" x2="713.5" y2="1128.7" stroke="#000" stroke-width="2" />
<line x1="856.5" y1="1103.7" x2="841.5" y2="1128.7" stroke="#000" stroke-width="2" />
<line x1="873.5" y1="1103.7" x2="858.5" y2="1128.7" stroke="#000" stroke-width="2" />
<line x1="1001.5" y1="1103.7" x2="986.5" y2="1128.7" stroke="#000" stroke-width="2" />
<line x1="1018.5" y1="1103.7" x2="1003.5" y2="1128.7" stroke="#000" stroke-width="2" />
<line x1="669.6" y1="1150.5" x2="695.6" y2="1165.5" stroke="#000" stroke-width="2" />
<line x1="669.6" y1="1167.5" x2="695.6" y2="1182.5" stroke="#000" stroke-width="2" />
<line x1="669.6" y1="1290.5" x2="695.6" y2="1305.5" stroke="#000" stroke-width="2" />
<line x1="669.6" y1="1307.5" x2="695.6" y2="1322.5" stroke="#000" stroke-width="2" />
<line x1="1019.8" y1="1148.0" x2="1045.8" y2="1163.0" stroke="#000" stroke-width="2" />
<line x1="1019.8" y1="1165.0" x2="1045.8" y2="1180.0" stroke="#000" stroke-width="2" />
<line x1="1019.8" y1="1281.5" x2="1045.8" y2="1296.5" stroke="#000" stroke-width="2" />
<line x1="1019.8" y1="1298.5" x2="1045.8" y2="1313.5" stroke="#000" stroke-width="2" />
<line x1="690.0" y1="1349.0" x2="702.0" y2="1331.0" stroke="#000" stroke-width="1.8" />
<line x1="697.0" y1="1350.0" x2="713.0" y2="1324.0" stroke="#000" stroke-width="1.8" />
<line x1="1018.0" y1="1349.0" x2="1030.0" y2="1330.0" stroke="#000" stroke-width="1.8" />
<line x1="1010.0" y1="1340.0" x2="1020.0" y2="1326.0" stroke="#000" stroke-width="1.8" />
<text transform="rotate(-60 654.00 1150.00) translate(630.00,1150.00) scale(0.8500,1)" x="0.00 10.33 20.65 30.98 36.45 46.77" y="0" font-size="17.44" font-family='"Liberation Sans", sans-serif' fill="#000" style="white-space:pre">882.93</text>
<text transform="rotate(-60 875.00 1149.00) translate(851.00,1149.00) scale(0.8500,1)" x="0.00 10.33 20.65 30.98 36.45 46.77" y="0" font-size="17.44" font-family='"Liberation Sans", sans-serif' fill="#000" style="white-space:pre">882.79</text>
<text transform="rotate(-60 1004.00 1152.00) translate(980.00,1152.00) scale(0.8500,1)" x="0.00 10.33 20.65 30.98 36.45 46.77" y="0" font-size="17.44" font-family='"Liberation Sans", sans-serif' fill="#000" style="white-space:pre">882.52</text>
<text transform="rotate(-60 656.00 1312.00) translate(632.00,1312.00) scale(0.8500,1)" x="0.00 10.33 20.65 30.98 36.45 46.77" y="0" font-size="17.44" font-family='"Liberation Sans", sans-serif' fill="#000" style="white-space:pre">883.18</text>
<text transform="rotate(-60 1076.00 1300.00) translate(1048.50,1300.00) scale(0.8500,1)" x="0.00 10.38 20.28 30.17 40.07 45.11 55.01" y="0" font-size="17.44" font-family='"Liberation Sans", sans-serif' fill="#000" style="white-space:pre">×882.81</text>
<text transform="rotate(-60 894.00 1273.00) translate(866.50,1273.00) scale(0.8500,1)" x="0.00 10.38 20.28 30.17 40.07 45.11 55.01" y="0" font-size="17.44" font-family='"Liberation Sans", sans-serif' fill="#000" style="white-space:pre">×882.96</text>
<line x1="702.6" y1="1203.0" x2="702.6" y2="1271.0" stroke="#000" stroke-width="1.5" />
<path d="M690.1,1227.0 L702.6,1203.0 L715.1,1227.0" stroke="#000" stroke-width="1.5" fill="none" />
<line x1="1012.0" y1="1184.3" x2="1012.0" y2="1253.5" stroke="#000" stroke-width="1.5" />
<path d="M999.5,1209.3 L1012.0,1184.3 L1024.5,1209.3" stroke="#000" stroke-width="1.5" fill="none" />
<line x1="1017.6" y1="1422.0" x2="1017.6" y2="1492.3" stroke="#000" stroke-width="1.5" />
<path d="M1005.1,1448.0 L1017.6,1422.0 L1030.1,1448.0" stroke="#000" stroke-width="1.5" fill="none" />
<line x1="832.3" y1="1260.4" x2="832.3" y2="1292.5" stroke="#000" stroke-width="1.3" />
<path d="M826.3,1273.0 L832.3,1260.4 L838.3,1273.0" stroke="#000" stroke-width="1.3" fill="none" />
<text transform="rotate(-90 824.00 1284.50) translate(817.50,1284.50) scale(0.8061,1)" x="0.00 10.80" y="0" font-size="15.99" font-family='"Liberation Sans", sans-serif' fill="#000" style="white-space:pre">2”</text>
<line x1="713.3" y1="1217.6" x2="713.3" y2="1330.0" stroke="#000" stroke-width="1.4" />
<line x1="1003.5" y1="1216.0" x2="1003.5" y2="1337.0" stroke="#000" stroke-width="1.4" />
<line x1="699.0" y1="1472.2" x2="699.0" y2="1524.0" stroke="#000" stroke-width="1.5" />
<path d="M699.0,1432.0 L692.6,1472.2 L705.4,1472.2 Z" stroke="#000" stroke-width="0.6" fill="#000" />
<line x1="696.7" y1="1686.8" x2="696.7" y2="1739.0" stroke="#000" stroke-width="1.5" />
<path d="M696.7,1646.7 L690.3,1686.8 L703.1,1686.8 Z" stroke="#000" stroke-width="0.6" fill="#000" />
<line x1="1017.6" y1="1652.7" x2="1017.6" y2="1704.9" stroke="#000" stroke-width="1.5" />
<path d="M1017.6,1612.6 L1011.2,1652.7 L1024.0,1652.7 Z" stroke="#000" stroke-width="0.6" fill="#000" />
<line x1="709.5" y1="1870.0" x2="709.5" y2="1820.0" stroke="#000" stroke-width="1.5" />
<path d="M709.5,1912.5 L703.1,1870.0 L715.9,1870.0 Z" stroke="#000" stroke-width="0.6" fill="#000" />
<line x1="1013.5" y1="1864.0" x2="1013.5" y2="1810.0" stroke="#000" stroke-width="1.5" />
<path d="M1013.5,1902.5 L1007.1,1864.0 L1019.9,1864.0 Z" stroke="#000" stroke-width="0.6" fill="#000" />
<text transform="rotate(-90 550.20 1565.40) translate(420.80,1565.40) scale(0.8343,1)" x="0.00 34.09 50.10 77.43 104.76 125.73 153.07 180.40 194.14 221.47 248.81 267.06 283.06" y="0" font-size="40.70" font-family='"Liberation Sans", sans-serif' fill="#000" stroke="#fff" stroke-width="0.90" style="white-space:pre">N 40°43’36” E</text>
<text transform="rotate(-90 593.50 1565.40) translate(454.00,1565.40) scale(0.9285,1)" x="0.00 26.38 52.75 68.00 94.38 120.76 133.78 149.04 166.49 195.06 210.31 241.11 256.37 287.17" y="0" font-size="39.97" font-family='"Liberation Sans", sans-serif' fill="#000" stroke="#fff" stroke-width="0.88" style="white-space:pre">86.00’ (F &amp; P)</text>
<text transform="rotate(-90 1152.70 1567.60) translate(1021.30,1567.60) scale(0.8208,1)" x="0.00 31.92 48.00 75.41 102.82 123.87 151.28 178.69 192.51 219.92 247.33 265.66 281.74" y="0" font-size="40.70" font-family='"Liberation Sans", sans-serif' fill="#000" stroke="#fff" stroke-width="0.90" style="white-space:pre">S 40°43’36” W</text>
<text transform="rotate(-90 1196.50 1565.60) translate(1057.10,1565.60) scale(0.9277,1)" x="0.00 26.38 52.76 68.02 94.40 120.78 133.81 149.06 166.52 195.09 210.34 241.15 256.41 287.22" y="0" font-size="39.97" font-family='"Liberation Sans", sans-serif' fill="#000" stroke="#fff" stroke-width="0.88" style="white-space:pre">86.00’ (F &amp; P)</text>
<text transform="translate(542.20,1248.40) scale(0.6862,1)" x="0.00 12.15 17.93 25.22 39.30 54.35 61.64 73.79 88.83 96.13 111.17" y="0" font-size="17.44" font-family='"Liberation Sans", sans-serif' fill="#000" style="white-space:pre">3' BUILDING</text>
<text transform="translate(535.50,1268.40) scale(0.6751,1)" x="0.00 14.12 28.24 41.39 55.51 69.63 84.72 98.84 106.17 118.36 125.69 140.78" y="0" font-size="17.44" font-family='"Liberation Sans", sans-serif' fill="#000" style="white-space:pre">SETBACK LINE</text>
<path d="M641,1263.6 L650,1263.6 C668,1263.6 686,1275 700,1286" stroke="#000" stroke-width="1.2" fill="none" />
<path d="M712.2,1290.7 L707.1,1286.3 L700.0,1282.7 L697.6,1288.2 L705.1,1290.9 L711.8,1291.7 Z" stroke="#000" stroke-width="0.4" fill="#000" />
<text transform="translate(1108.30,1158.20) scale(0.6704,1)" x="0.00 12.21 24.41 30.25 37.60 51.74 66.84 74.19 86.40 101.50 108.85 123.96" y="0" font-size="17.44" font-family='"Liberation Sans", sans-serif' fill="#000" style="white-space:pre">10' BUILDING</text>
<text transform="translate(1101.30,1177.70) scale(0.6775,1)" x="0.00 14.11 28.23 41.36 55.47 69.59 84.66 98.78 106.10 118.28 125.61 140.68" y="0" font-size="17.44" font-family='"Liberation Sans", sans-serif' fill="#000" style="white-space:pre">SETBACK LINE</text>
<path d="M1102.3,1153.2 L1094,1153.2 C1082,1153.2 1081,1165 1080,1172 L1073,1198" stroke="#000" stroke-width="1.2" fill="none" />
<path d="M1067.7,1214.4 L1071.9,1207.8 L1075.1,1199.2 L1069.3,1197.4 L1067.0,1206.3 L1066.7,1214.2 Z" stroke="#000" stroke-width="0.4" fill="#000" />
<text transform="translate(1064.20,1247.40) scale(0.6822,1)" x="0.00 12.16 17.96 25.26 39.36 54.42 61.73 73.89 88.95 96.26 111.32" y="0" font-size="17.44" font-family='"Liberation Sans", sans-serif' fill="#000" style="white-space:pre">3' BUILDING</text>
<text transform="translate(1057.70,1266.50) scale(0.6735,1)" x="0.00 14.13 28.26 41.40 55.53 69.66 84.75 98.88 106.22 118.41 125.75 140.84" y="0" font-size="17.44" font-family='"Liberation Sans", sans-serif' fill="#000" style="white-space:pre">SETBACK LINE</text>
<path d="M1060.2,1240.4 L1045,1240.4 C1035,1242 1030,1248 1014,1262" stroke="#000" stroke-width="1.2" fill="none" />
<path d="M1003.3,1270.9 L1009.7,1268.7 L1016.4,1264.5 L1012.9,1259.6 L1006.8,1264.7 L1002.7,1270.1 Z" stroke="#000" stroke-width="0.4" fill="#000" />
<text transform="translate(1105.80,1837.20) scale(0.6686,1)" x="0.00 12.21 24.43 30.27 37.63 51.77 66.88 74.24 86.45 101.56 108.92 124.03" y="0" font-size="17.44" font-family='"Liberation Sans", sans-serif' fill="#000" style="white-space:pre">16' BUILDING</text>
<text transform="translate(1098.30,1856.50) scale(0.6735,1)" x="0.00 14.13 28.26 41.40 55.53 69.66 84.75 98.88 106.22 118.41 125.75 140.84" y="0" font-size="17.44" font-family='"Liberation Sans", sans-serif' fill="#000" style="white-space:pre">SETBACK LINE</text>
<path d="M1099.4,1832.7 L1086,1832.7 C1078,1832.7 1072,1826 1062,1822" stroke="#000" stroke-width="1.2" fill="none" />
<path d="M1050.0,1816.7 L1055.4,1821.7 L1062.8,1826.0 L1065.5,1820.6 L1057.6,1817.2 L1050.4,1815.9 Z" stroke="#000" stroke-width="0.4" fill="#000" />
<text transform="translate(1120.70,1929.60) scale(0.6745,1)" x="0.00 12.19 24.38 30.20 37.54 52.63 65.77 73.11 85.30 92.63 105.78" y="0" font-size="17.44" font-family='"Liberation Sans", sans-serif' fill="#000" style="white-space:pre">10' UTILITY</text>
<text transform="translate(1121.80,1949.30) scale(0.6580,1)" x="0.00 14.19 28.37 42.56 56.75 73.83 88.02 103.17" y="0" font-size="17.44" font-family='"Liberation Sans", sans-serif' fill="#000" style="white-space:pre">EASEMENT</text>
<path d="M1116.5,1926.4 L1105,1926.4 C1095,1926.4 1090,1910 1070,1885 M1105,1926.4 C1095,1930 1088,1945 1075,1965" stroke="#000" stroke-width="1.2" fill="none" />
<path d="M1064.7,1876.4 L1066.5,1883.4 L1070.4,1891.1 L1075.6,1888.1 L1070.8,1880.9 L1065.5,1875.8 Z" stroke="#000" stroke-width="0.4" fill="#000" />
<path d="M1070.9,1974.7 L1075.9,1969.3 L1080.2,1961.9 L1074.8,1959.2 L1071.4,1967.1 L1070.1,1974.3 Z" stroke="#000" stroke-width="0.4" fill="#000" />
<text transform="translate(607.40,1393.60) scale(0.8425,1)" x="0.00 12.65 19.63 32.28" y="0" font-size="20.35" font-family='"Liberation Sans", sans-serif' fill="#000" style="white-space:pre">3.0’</text>
<line x1="642.0" y1="1389.2" x2="678.0" y2="1389.2" stroke="#000" stroke-width="1.2" />
<path d="M678.2,1388.7 L670.6,1386.7 L661.4,1386.2 L661.4,1392.2 L670.6,1391.7 L678.2,1389.7 Z" stroke="#000" stroke-width="0.4" fill="#000" />
<line x1="716.0" y1="1389.2" x2="752.8" y2="1389.2" stroke="#000" stroke-width="1.2" />
<path d="M716.2,1389.7 L723.8,1391.7 L733.0,1392.2 L733.0,1386.2 L723.8,1386.7 L716.2,1388.7 Z" stroke="#000" stroke-width="0.4" fill="#000" />
<text transform="translate(604.40,1763.00) scale(0.8730,1)" x="0.00 12.60 19.54 32.14" y="0" font-size="20.35" font-family='"Liberation Sans", sans-serif' fill="#000" style="white-space:pre">3.0’</text>
<line x1="642.5" y1="1758.2" x2="678.0" y2="1758.2" stroke="#000" stroke-width="1.2" />
<path d="M678.2,1757.7 L670.6,1755.7 L661.4,1755.2 L661.4,1761.2 L670.6,1760.7 L678.2,1758.7 Z" stroke="#000" stroke-width="0.4" fill="#000" />
<line x1="716.0" y1="1758.2" x2="752.8" y2="1758.2" stroke="#000" stroke-width="1.2" />
<path d="M716.2,1758.7 L723.8,1760.7 L733.0,1761.2 L733.0,1755.2 L723.8,1755.7 L716.2,1757.7 Z" stroke="#000" stroke-width="0.4" fill="#000" />
<text transform="translate(1077.20,1365.70) scale(0.8730,1)" x="0.00 12.60 19.54 32.14" y="0" font-size="20.35" font-family='"Liberation Sans", sans-serif' fill="#000" style="white-space:pre">3.0’</text>
<line x1="1037.0" y1="1360.7" x2="1072.2" y2="1360.7" stroke="#000" stroke-width="1.2" />
<path d="M1037.5,1361.2 L1045.1,1363.2 L1054.3,1363.7 L1054.3,1357.7 L1045.1,1358.2 L1037.5,1360.2 Z" stroke="#000" stroke-width="0.4" fill="#000" />
<line x1="963.2" y1="1360.7" x2="999.5" y2="1360.7" stroke="#000" stroke-width="1.2" />
<path d="M999.5,1360.2 L991.9,1358.2 L982.7,1357.7 L982.7,1363.7 L991.9,1363.2 L999.5,1361.2 Z" stroke="#000" stroke-width="0.4" fill="#000" />
<text transform="translate(1078.00,1796.00) scale(0.8425,1)" x="0.00 12.65 19.63 32.28" y="0" font-size="20.35" font-family='"Liberation Sans", sans-serif' fill="#000" style="white-space:pre">3.0’</text>
<line x1="1037.0" y1="1791.7" x2="1072.6" y2="1791.7" stroke="#000" stroke-width="1.2" />
<path d="M1037.5,1792.2 L1045.1,1794.2 L1054.3,1794.7 L1054.3,1788.7 L1045.1,1789.2 L1037.5,1791.2 Z" stroke="#000" stroke-width="0.4" fill="#000" />
<line x1="962.3" y1="1791.7" x2="999.5" y2="1791.7" stroke="#000" stroke-width="1.2" />
<path d="M999.5,1791.2 L991.9,1789.2 L982.7,1788.7 L982.7,1794.7 L991.9,1794.2 L999.5,1792.2 Z" stroke="#000" stroke-width="0.4" fill="#000" />
<rect x="604.4" y="1401.0" width="61.1" height="25.7" stroke="#000" stroke-width="1.3" fill="none"/>
<text transform="translate(615.40,1421.70) scale(0.7933,1)" x="0.00 11.09 22.18 33.28 39.43" y="0" font-size="17.73" font-family='"Liberation Sans", sans-serif' fill="#000" style="white-space:pre">883.2</text>
<rect x="723.4" y="1358.0" width="60.8" height="24.0" stroke="#000" stroke-width="1.3" fill="none"/>
<text transform="translate(731.91,1376.60) scale(0.7172,1)" x="0.00 11.22 22.45 33.67 39.96 51.18" y="0" font-size="17.73" font-family='"Liberation Sans", sans-serif' fill="#000" style="white-space:pre">884.51</text>
<rect x="604.4" y="1597.4" width="61.0" height="24.4" stroke="#000" stroke-width="1.3" fill="none"/>
<text transform="translate(615.38,1616.60) scale(0.7918,1)" x="0.00 11.09 22.19 33.28 39.44" y="0" font-size="17.73" font-family='"Liberation Sans", sans-serif' fill="#000" style="white-space:pre">883.4</text>
<rect x="755.6" y="1573.7" width="60.2" height="24.1" stroke="#000" stroke-width="1.3" fill="none"/>
<text transform="translate(764.03,1591.90) scale(0.7092,1)" x="0.00 11.24 22.48 33.71 40.02 51.26" y="0" font-size="17.73" font-family='"Liberation Sans", sans-serif' fill="#000" style="white-space:pre">884.51</text>
<rect x="604.4" y="1717.7" width="61.0" height="24.1" stroke="#000" stroke-width="1.3" fill="none"/>
<text transform="translate(615.38,1737.00) scale(0.7918,1)" x="0.00 11.09 22.19 33.28 39.44" y="0" font-size="17.73" font-family='"Liberation Sans", sans-serif' fill="#000" style="white-space:pre">883.6</text>
<rect x="796.3" y="1722.4" width="62.0" height="25.0" stroke="#000" stroke-width="1.3" fill="none"/>
<text transform="translate(804.98,1741.60) scale(0.7331,1)" x="0.00 11.19 22.39 33.58 39.84 51.03" y="0" font-size="17.73" font-family='"Liberation Sans", sans-serif' fill="#000" style="white-space:pre">884.22</text>
<rect x="912.4" y="1691.3" width="62.0" height="25.1" stroke="#000" stroke-width="1.3" fill="none"/>
<text transform="translate(921.08,1711.20) scale(0.7331,1)" x="0.00 11.19 22.39 33.58 39.84 51.03" y="0" font-size="17.73" font-family='"Liberation Sans", sans-serif' fill="#000" style="white-space:pre">884.51</text>
<rect x="1053.6" y="1599.5" width="61.0" height="25.3" stroke="#000" stroke-width="1.3" fill="none"/>
<text transform="translate(1064.58,1619.50) scale(0.7918,1)" x="0.00 11.09 22.19 33.28 39.44" y="0" font-size="17.73" font-family='"Liberation Sans", sans-serif' fill="#000" style="white-space:pre">883.4</text>
<rect x="583.5" y="1989.5" width="61.0" height="24.5" stroke="#000" stroke-width="1.3" fill="none"/>
<text transform="translate(594.48,2010.00) scale(0.7918,1)" x="0.00 11.09 22.19 33.28 39.44" y="0" font-size="17.73" font-family='"Liberation Sans", sans-serif' fill="#000" style="white-space:pre">883.2</text>
<rect x="736.0" y="1989.5" width="61.0" height="24.5" stroke="#000" stroke-width="1.3" fill="none"/>
<text transform="translate(744.54,2010.00) scale(0.7198,1)" x="0.00 11.22 22.44 33.65 39.94 51.15" y="0" font-size="17.73" font-family='"Liberation Sans", sans-serif' fill="#000" style="white-space:pre">882.70</text>
<rect x="825.8" y="1989.5" width="60.6" height="24.5" stroke="#000" stroke-width="1.3" fill="none"/>
<text transform="translate(834.28,2010.00) scale(0.7145,1)" x="0.00 11.23 22.46 33.68 39.98 51.20" y="0" font-size="17.73" font-family='"Liberation Sans", sans-serif' fill="#000" style="white-space:pre">882.60</text>
<rect x="1053.4" y="2001.9" width="60.9" height="24.4" stroke="#000" stroke-width="1.3" fill="none"/>
<text transform="translate(1064.36,2020.50) scale(0.7904,1)" x="0.00 11.10 22.19 33.29 39.45" y="0" font-size="17.73" font-family='"Liberation Sans", sans-serif' fill="#000" style="white-space:pre">883.0</text>
<circle cx="702.6" cy="1376.2" r="3.8" fill="#000" stroke="#000" stroke-width="0"/>
<path d="M665.5,1416 C675,1416 680,1410 684,1400 L702.6,1376.2" stroke="#000" stroke-width="1.1" fill="none" />
<circle cx="804.1" cy="1329.9" r="3.8" fill="#000" stroke="#000" stroke-width="0"/>
<path d="M784.2,1370 L795,1370 C802,1368 804,1360 804.1,1329.9" stroke="#000" stroke-width="1.1" fill="none" />
<circle cx="702.7" cy="1575.7" r="3.8" fill="#000" stroke="#000" stroke-width="0"/>
<path d="M665.4,1609 L672,1609 C678,1607 682,1600 702.7,1575.7" stroke="#000" stroke-width="1.1" fill="none" />
<circle cx="720.3" cy="1558.7" r="3.8" fill="#000" stroke="#000" stroke-width="0"/>
<path d="M720.3,1558.7 L740,1578 C745,1584 748,1585 755.6,1585" stroke="#000" stroke-width="1.1" fill="none" />
<circle cx="702.7" cy="1775.8" r="3.8" fill="#000" stroke="#000" stroke-width="0"/>
<path d="M665.4,1729 L672,1729 C680,1732 690,1748 702.7,1775.8" stroke="#000" stroke-width="1.1" fill="none" />
<circle cx="814.2" cy="1772.2" r="3.8" fill="#000" stroke="#000" stroke-width="0"/>
<path d="M827,1747.4 C828,1757 822,1765 814.2,1772.2" stroke="#000" stroke-width="1.1" fill="none" />
<circle cx="993.0" cy="1763.0" r="3.8" fill="#000" stroke="#000" stroke-width="0"/>
<path d="M974.4,1703 L980,1703 C988,1705 991,1720 993,1763" stroke="#000" stroke-width="1.1" fill="none" />
<circle cx="1013.1" cy="1575.4" r="3.8" fill="#000" stroke="#000" stroke-width="0"/>
<path d="M1013.1,1575.4 C1022,1585 1030,1600 1040,1608 L1053.6,1612" stroke="#000" stroke-width="1.1" fill="none" />
<path d="M1053.4,2014 L1045,2014 C1038,2012 1035,1995 1033,1984" stroke="#000" stroke-width="1.1" fill="none" />
<circle cx="1019.6" cy="1962.6" r="3.5" fill="#000" stroke="#000" stroke-width="0"/>
<text transform="rotate(-90 674.60 1513.70) translate(649.90,1513.70) scale(0.9684,1)" x="0.00 9.36 18.71 28.07 33.17 42.53" y="0" font-size="15.26" font-family='"Liberation Sans", sans-serif' fill="#000" style="white-space:pre">883.40</text>
<text transform="rotate(-90 1058.40 1540.50) translate(1032.40,1540.50) scale(1.0241,1)" x="0.00 9.31 18.62 27.92 32.98 42.29" y="0" font-size="15.26" font-family='"Liberation Sans", sans-serif' fill="#000" style="white-space:pre">883.47</text>
<text transform="translate(615.60,1787.10) scale(0.6768,1)" x="0.00 11.12 22.24 33.36 39.62 50.74 61.86 68.12" y="0" font-size="17.44" font-family='"Liberation Sans", sans-serif' fill="#000" style="white-space:pre">883.57 ×</text>
<text transform="translate(1055.50,1774.50) scale(0.8529,1)" x="0.00 10.83 21.65 32.48 38.45 49.28" y="0" font-size="17.44" font-family='"Liberation Sans", sans-serif' fill="#000" style="white-space:pre">883.60</text>
<line x1="1043.0" y1="1775.0" x2="1051.0" y2="1785.0" stroke="#000" stroke-width="1" />
<line x1="1042.0" y1="1783.0" x2="1052.0" y2="1777.0" stroke="#000" stroke-width="1" />
<text transform="translate(1052.30,1994.90) scale(0.8604,1)" x="0.00 10.82 21.63 32.45 38.41 49.23" y="0" font-size="17.44" font-family='"Liberation Sans", sans-serif' fill="#000" style="white-space:pre">883.10</text>
<text transform="rotate(-60 885.00 1728.00) translate(857.50,1728.00) scale(0.8500,1)" x="0.00 10.38 20.28 30.17 40.07 45.11 55.01" y="0" font-size="17.44" font-family='"Liberation Sans", sans-serif' fill="#000" style="white-space:pre">×883.69</text>
<text transform="rotate(-90 921.00 1734.00) translate(907.50,1734.00) scale(0.7866,1)" x="0.00 11.84 28.52" y="0" font-size="17.44" font-family='"Liberation Sans", sans-serif' fill="#000" style="white-space:pre">3½”</text>
<text transform="rotate(-90 822.00 1354.40) translate(808.50,1354.40) scale(0.7866,1)" x="0.00 11.84 28.52" y="0" font-size="17.44" font-family='"Liberation Sans", sans-serif' fill="#000" style="white-space:pre">3½”</text>
<path d="M822.0,1338.0 A9,9 0 0 0 840.0,1338.0 Z" fill="#000" transform="rotate(-40 831 1338)"/>
<line x1="827.0" y1="1343.0" x2="836.0" y2="1334.0" stroke="#fff" stroke-width="1.2" />
<path d="M896.8,1567.3 A9,9 0 0 0 914.8,1567.3 Z" fill="#000" transform="rotate(-40 905.8 1567.3)"/>
<line x1="901.8" y1="1572.3" x2="910.8" y2="1563.3" stroke="#fff" stroke-width="1.2" />
<path d="M926.3,1745.9 A9,9 0 0 0 944.3,1745.9 Z" fill="#000" transform="rotate(-40 935.3 1745.9)"/>
<line x1="931.3" y1="1750.9" x2="940.3" y2="1741.9" stroke="#fff" stroke-width="1.2" />
<path d="M926.0,1806.0 A9,9 0 0 0 944.0,1806.0 Z" fill="#000" transform="rotate(-40 935 1806)"/>
<line x1="931.0" y1="1811.0" x2="940.0" y2="1802.0" stroke="#fff" stroke-width="1.2" />
<line x1="830.3" y1="1318.0" x2="830.3" y2="1338.0" stroke="#000" stroke-width="1.2" />
<line x1="886.0" y1="1565.0" x2="925.7" y2="1565.0" stroke="#000" stroke-width="1.2" />
<text transform="translate(945.60,1768.20) scale(0.6017,1)" x="0.00 15.39 31.75 46.17" y="0" font-size="17.44" font-family='"Liberation Sans", sans-serif' fill="#000" style="white-space:pre">COV.</text>
<text transform="translate(940.00,1786.30) scale(0.6099,1)" x="0.00 15.35 31.67 47.02 62.37" y="0" font-size="17.44" font-family='"Liberation Sans", sans-serif' fill="#000" style="white-space:pre">CONC.</text>
<line x1="935.8" y1="1730.0" x2="935.8" y2="1750.0" stroke="#000" stroke-width="1.2" />
<line x1="956.3" y1="1805.7" x2="956.3" y2="1845.8" stroke="#000" stroke-width="1.4" />
<line x1="892.8" y1="1845.8" x2="956.3" y2="1845.8" stroke="#000" stroke-width="1.4" />
<line x1="712.7" y1="1772.2" x2="712.7" y2="1815.0" stroke="#000" stroke-width="1.4" />
<line x1="732.0" y1="1772.2" x2="732.0" y2="1975.8" stroke="#000" stroke-width="1.4" />
<line x1="893.2" y1="1805.7" x2="893.2" y2="1975.8" stroke="#000" stroke-width="1.4" />
<line x1="1003.0" y1="1805.7" x2="1003.0" y2="1815.9" stroke="#000" stroke-width="1.4" />
<text transform="translate(795.80,1900.40) scale(0.8239,1)" x="0.00 10.87 21.73 27.74 38.61" y="0" font-size="17.44" font-family='"Liberation Sans", sans-serif' fill="#000" style="white-space:pre">16.3’</text>
<text transform="translate(792.00,1918.50) scale(0.6455,1)" x="0.00 15.20 31.37 46.57 61.77" y="0" font-size="17.44" font-family='"Liberation Sans", sans-serif' fill="#000" style="white-space:pre">CONC.</text>
<text transform="translate(793.00,1936.50) scale(0.6056,1)" x="0.00 15.37 30.74 38.36 52.77" y="0" font-size="17.44" font-family='"Liberation Sans", sans-serif' fill="#000" style="white-space:pre">DRIVE</text>
<line x1="811.0" y1="1950.6" x2="811.0" y2="2018.8" stroke="#000" stroke-width="1.5" />
<path d="M799,1992.7 L811,2018.8 L823,1992.7" stroke="#000" stroke-width="1.5" fill="none" />
<text transform="rotate(-90 759.70 1845.50) translate(744.20,1845.50) scale(0.6762,1)" x="0.00 11.58 18.11 29.69" y="0" font-size="18.17" font-family='"Liberation Sans", sans-serif' fill="#000" style="white-space:pre">7.5%</text>
<text transform="rotate(-90 780.80 1846.10) translate(759.10,1846.10) scale(0.6007,1)" x="0.00 15.03 28.05 45.09 60.13" y="0" font-size="18.17" font-family='"Liberation Sans", sans-serif' fill="#000" style="white-space:pre">SLOPE</text>
<line x1="765.5" y1="1823.8" x2="765.5" y2="1892.4" stroke="#000" stroke-width="1.4" />
<path d="M755.5,1872.6 L765.5,1872.6 L765.5,1892.4 Z" stroke="#000" stroke-width="1.2" fill="none" />
<text transform="rotate(-90 853.60 1845.20) translate(837.60,1845.20) scale(0.7003,1)" x="0.00 11.53 18.01 29.54" y="0" font-size="18.17" font-family='"Liberation Sans", sans-serif' fill="#000" style="white-space:pre">7.9%</text>
<text transform="rotate(-90 875.80 1844.60) translate(853.80,1844.60) scale(0.6106,1)" x="0.00 14.98 27.95 44.95 59.94" y="0" font-size="18.17" font-family='"Liberation Sans", sans-serif' fill="#000" style="white-space:pre">SLOPE</text>
<line x1="859.6" y1="1823.2" x2="859.6" y2="1891.8" stroke="#000" stroke-width="1.4" />
<path d="M849.4,1871.4 L859.6,1871.4 L859.6,1891.8 Z" stroke="#000" stroke-width="1.2" fill="none" />
<line x1="907.3" y1="1815.9" x2="907.3" y2="1870.0" stroke="#000" stroke-width="1.3" />
<line x1="907.3" y1="1915.0" x2="907.3" y2="1975.8" stroke="#000" stroke-width="1.3" />
<path d="M906.7,1815.9 L907.9,1815.9 L911.3,1826.9 L911.3,1831.9 L903.3,1831.9 L903.3,1826.9 Z" stroke="#000" stroke-width="0.5" fill="#000" />
<path d="M906.7,1975.8 L907.9,1975.8 L911.3,1964.8 L911.3,1959.8 L903.3,1959.8 L903.3,1964.8 Z" stroke="#000" stroke-width="0.5" fill="#000" />
<text transform="rotate(-90 915.00 1892.40) translate(900.00,1892.40) scale(0.6917,1)" x="0.00 11.09 22.18 28.41 39.50" y="0" font-size="17.44" font-family='"Liberation Sans", sans-serif' fill="#000" style="white-space:pre">17.4’</text>
<text transform="rotate(-60 872.00 1946.00) translate(848.00,1946.00) scale(0.8500,1)" x="0.00 10.33 20.65 30.98 36.45 46.77" y="0" font-size="17.44" font-family='"Liberation Sans", sans-serif' fill="#000" style="white-space:pre">882.96</text>
<text transform="translate(952.60,1910.40) scale(0.7604,1)" x="0.00 11.91" y="0" font-size="17.44" font-family='"Liberation Sans", sans-serif' fill="#000" style="white-space:pre">4’</text>
<text transform="translate(937.30,1930.50) scale(0.6277,1)" x="0.00 15.27 31.52 46.79 62.06" y="0" font-size="17.44" font-family='"Liberation Sans", sans-serif' fill="#000" style="white-space:pre">CONC.</text>
<text transform="translate(939.30,1946.50) scale(0.6668,1)" x="0.00 18.98 33.14 45.36" y="0" font-size="17.44" font-family='"Liberation Sans", sans-serif' fill="#000" style="white-space:pre">WALK</text>
<path d="M949.4,1906.4 L944,1906.4 C936,1904 932,1898 928,1880 L920,1848" stroke="#000" stroke-width="1.2" fill="none" />
<path d="M914.8,1834.3 L914.8,1841.6 L916.7,1850.0 L922.5,1848.4 L919.7,1840.3 L915.8,1834.1 Z" stroke="#000" stroke-width="0.4" fill="#000" />
<line x1="973.4" y1="1866.3" x2="1003.5" y2="1928.5" stroke="#000" stroke-width="1.5" />
<path d="M981,1912 L1003.5,1928.5 L1002,1900" stroke="#000" stroke-width="1.5" fill="none" />
<text transform="translate(609.00,1836.20) scale(0.6041,1)" x="0.00 13.44 27.85 40.33 54.75" y="0" font-size="17.44" font-family='"Liberation Sans", sans-serif' fill="#000" style="white-space:pre">TELE.</text>
<text transform="translate(591.60,1856.30) scale(0.6502,1)" x="0.00 14.22 28.44 43.62 57.83 72.05 85.29 99.51" y="0" font-size="17.44" font-family='"Liberation Sans", sans-serif' fill="#000" style="white-space:pre">PEDESTAL</text>
<path d="M662.6,1853 L668,1853 C672,1853 675,1858 680,1864" stroke="#000" stroke-width="1.1" fill="none" />
<circle cx="696.7" cy="1902.4" r="6" fill="none" stroke="#000" stroke-width="1.6"/>
<line x1="692.0" y1="1897.0" x2="686.0" y2="1887.0" stroke="#000" stroke-width="2.2" />
<text transform="translate(554.30,1893.60) scale(0.6656,1)" x="0.00 15.12 29.28 42.46" y="0" font-size="17.44" font-family='"Liberation Sans", sans-serif' fill="#000" style="white-space:pre">CATV</text>
<text transform="translate(537.00,1912.50) scale(0.6326,1)" x="0.00 14.29 28.58 43.83 58.12 72.41 85.72 100.01" y="0" font-size="17.44" font-family='"Liberation Sans", sans-serif' fill="#000" style="white-space:pre">PEDESTAL</text>
<path d="M606.4,1909 C625,1909 640,1915 650,1921" stroke="#000" stroke-width="1.1" fill="none" />
<path d="M660.2,1924.0 L655.3,1920.3 L648.7,1917.3 L646.8,1921.9 L653.7,1924.2 L659.8,1925.0 Z" stroke="#000" stroke-width="0.4" fill="#000" />
<circle cx="665.4" cy="1926.5" r="6" fill="none" stroke="#000" stroke-width="1.6"/>
<text transform="translate(591.60,1932.50) scale(0.6145,1)" x="0.00 14.37 26.80 41.17 56.50" y="0" font-size="17.44" font-family='"Liberation Sans", sans-serif' fill="#000" style="white-space:pre">ELEC.</text>
<text transform="translate(596.40,1949.80) scale(0.6689,1)" x="0.00 14.15 30.22" y="0" font-size="17.44" font-family='"Liberation Sans", sans-serif' fill="#000" style="white-space:pre">BOX</text>
<line x1="629.0" y1="1945.0" x2="665.0" y2="1947.0" stroke="#000" stroke-width="1.1" />
<path d="M675.0,1946.8 L669.1,1945.0 L661.9,1944.4 L661.7,1949.4 L669.0,1949.2 L675.0,1947.8 Z" stroke="#000" stroke-width="0.4" fill="#000" />
<rect x="675.6" y="1942.5" width="15.0" height="10.0" stroke="#000" stroke-width="1.4" fill="none"/>
<path d="M686.6,1958.6 L720.0,1974.6 L720.0,1958.6 L686.6,1974.6 Z" stroke="#000" stroke-width="1.6" fill="none" />
<text transform="translate(692.70,1996.70) scale(0.7812,1)" x="0.00 16.46 30.99" y="0" font-size="17.44" font-family='"Liberation Sans", sans-serif' fill="#000" font-weight="bold" style="white-space:pre">WM.</text>
<line x1="682.6" y1="2019.5" x2="1033.6" y2="2019.5" stroke="#000" stroke-width="1.6" />
<line x1="682.6" y1="2026.8" x2="1033.6" y2="2026.8" stroke="#000" stroke-width="1.6" />
<line x1="710.7" y1="2026.8" x2="729.0" y2="1980.0" stroke="#000" stroke-width="1.6" />
<line x1="913.5" y1="2026.8" x2="894.0" y2="1980.0" stroke="#000" stroke-width="1.6" />
<text transform="translate(913.30,2012.70) scale(0.7086,1)" x="0.00 12.07 18.32 25.53 40.50 56.44 71.40 86.37 93.59 100.81 119.64 133.64 145.71" y="0" font-size="17.44" font-family='"Liberation Sans", sans-serif' fill="#000" style="white-space:pre">4’ CONC. WALK</text>
<text transform="translate(956.60,2046.80) scale(0.6467,1)" x="0.00 15.19 30.39 45.58" y="0" font-size="17.44" font-family='"Liberation Sans", sans-serif' fill="#000" style="white-space:pre">CURB</text>
<line x1="681.0" y1="2016.0" x2="691.0" y2="2030.0" stroke="#000" stroke-width="1" />
<line x1="680.0" y1="2028.0" x2="692.0" y2="2018.0" stroke="#000" stroke-width="1" />
<line x1="871.0" y1="2016.0" x2="881.0" y2="2030.0" stroke="#000" stroke-width="1" />
<line x1="870.0" y1="2028.0" x2="882.0" y2="2018.0" stroke="#000" stroke-width="1" />
<line x1="1017.0" y1="2016.0" x2="1027.0" y2="2030.0" stroke="#000" stroke-width="1" />
<line x1="1016.0" y1="2028.0" x2="1028.0" y2="2018.0" stroke="#000" stroke-width="1" />
<text transform="rotate(-56.99999999999995 638.00 2077.00) translate(638.00,2077.00) scale(0.8500,1)" x="0.00 9.92 15.00 27.35 32.43 43.96 49.04 58.57 67.70 76.82 85.95 91.03 100.15" y="0" font-size="14.53" font-family='"Liberation Sans", sans-serif' fill="#000" style="white-space:pre">T.O.C.=883.07</text>
<text transform="rotate(-57.00000000000004 658.00 2075.00) translate(658.00,2075.00) scale(0.8500,1)" x="0.00 11.43 22.86 34.28 41.67 53.10" y="0" font-size="14.53" font-family='"Liberation Sans", sans-serif' fill="#000" style="white-space:pre">883.13</text>
<text transform="rotate(-56.999999999999964 673.00 2078.00) translate(673.00,2078.00) scale(0.8500,1)" x="0.00 12.27 23.73 33.57 38.57" y="0" font-size="14.53" font-family='"Liberation Sans", sans-serif' fill="#000" style="white-space:pre">GUT.=</text>
<text transform="rotate(-57.00000000000004 690.00 2077.00) translate(690.00,2077.00) scale(0.8500,1)" x="0.00 11.43 22.86 34.28 41.67 53.10" y="0" font-size="14.53" font-family='"Liberation Sans", sans-serif' fill="#000" style="white-space:pre">882.54</text>
<text transform="rotate(-56.99999999999998 798.00 2080.00) translate(798.00,2080.00) scale(0.8500,1)" x="0.00 10.14 15.43 27.99 33.29 45.04 50.34" y="0" font-size="14.53" font-family='"Liberation Sans", sans-serif' fill="#000" style="white-space:pre">T.O.C.=</text>
<text transform="rotate(-57.00000000000004 815.00 2078.00) translate(815.00,2078.00) scale(0.8500,1)" x="0.00 11.43 22.86 34.28 41.67 53.10" y="0" font-size="14.53" font-family='"Liberation Sans", sans-serif' fill="#000" style="white-space:pre">882.97</text>
<text transform="rotate(-56.999999999999964 831.00 2080.00) translate(831.00,2080.00) scale(0.8500,1)" x="0.00 12.27 23.73 33.57 38.57" y="0" font-size="14.53" font-family='"Liberation Sans", sans-serif' fill="#000" style="white-space:pre">GUT.=</text>
<text transform="rotate(-57.00000000000004 848.00 2078.00) translate(848.00,2078.00) scale(0.8500,1)" x="0.00 11.43 22.86 34.28 41.67 53.10" y="0" font-size="14.53" font-family='"Liberation Sans", sans-serif' fill="#000" style="white-space:pre">883.06</text>
<text transform="rotate(-57.000000000000085 1000.00 2080.00) translate(1000.00,2080.00) scale(0.8500,1)" x="0.00 10.14 15.43 27.99 33.29 45.04 50.34" y="0" font-size="14.53" font-family='"Liberation Sans", sans-serif' fill="#000" style="white-space:pre">T.O.C.=</text>
<text transform="rotate(-57.00000000000004 1017.00 2078.00) translate(1017.00,2078.00) scale(0.8500,1)" x="0.00 11.43 22.86 34.28 41.67 53.10" y="0" font-size="14.53" font-family='"Liberation Sans", sans-serif' fill="#000" style="white-space:pre">882.91</text>
<text transform="rotate(-56.99999999999983 1033.00 2080.00) translate(1033.00,2080.00) scale(0.8500,1)" x="0.00 12.27 23.73 33.57 38.57" y="0" font-size="14.53" font-family='"Liberation Sans", sans-serif' fill="#000" style="white-space:pre">GUT.=</text>
<text transform="rotate(-57.00000000000004 1050.00 2078.00) translate(1050.00,2078.00) scale(0.8500,1)" x="0.00 11.43 22.86 34.28 41.67 53.10" y="0" font-size="14.53" font-family='"Liberation Sans", sans-serif' fill="#000" style="white-space:pre">882.35</text>
<path d="M644.5,2001 L650,2001 C660,1999 670,1990 682,1980" stroke="#000" stroke-width="1.1" fill="none" />
<line x1="921.5" y1="1771.0" x2="921.5" y2="1803.0" stroke="#000" stroke-width="1.2" />
<path d="M915.5,1792 L921.5,1803 L927.5,1792" stroke="#000" stroke-width="1.2" fill="none" />
<text transform="rotate(-90 915.50 1783.00) translate(909.00,1783.00) scale(0.8061,1)" x="0.00 10.80" y="0" font-size="15.99" font-family='"Liberation Sans", sans-serif' fill="#000" style="white-space:pre">2”</text>
<text transform="rotate(-90 933.00 1822.00) translate(919.50,1822.00) scale(0.7866,1)" x="0.00 11.84 28.52" y="0" font-size="17.44" font-family='"Liberation Sans", sans-serif' fill="#000" style="white-space:pre">3½”</text>
<line x1="1010.0" y1="1980.0" x2="1019.0" y2="1970.0" stroke="#000" stroke-width="1" />
</svg>
</body></html>
